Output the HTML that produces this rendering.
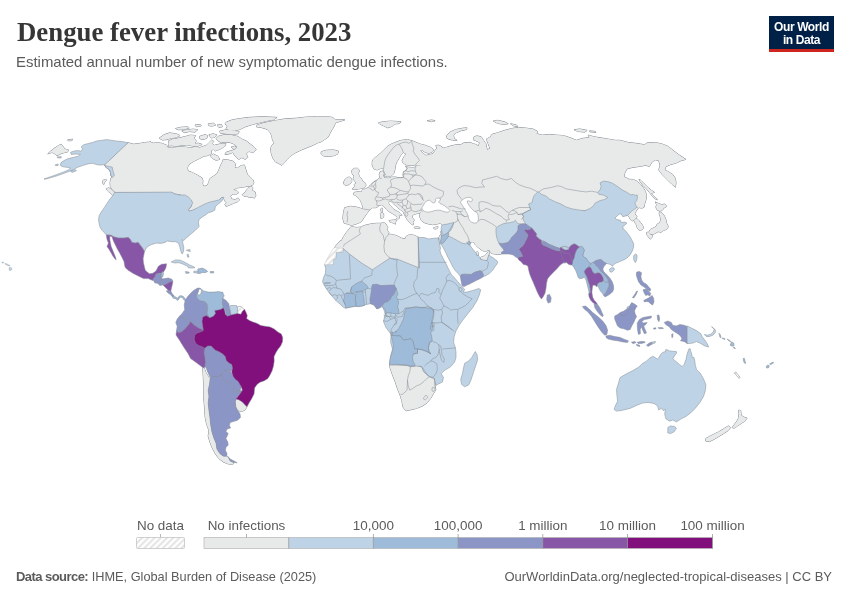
<!DOCTYPE html>
<html lang="en">
<head>
<meta charset="utf-8">
<title>Dengue fever infections, 2023</title>
<style>
html,body{margin:0;padding:0;background:#fff;}
body{width:850px;height:600px;position:relative;overflow:hidden;font-family:"Liberation Sans",sans-serif;}
#title{position:absolute;left:17px;top:15.5px;margin:0;font-family:"Liberation Serif",serif;font-weight:700;font-size:26.8px;line-height:32px;color:#363636;white-space:nowrap;letter-spacing:0px;}
#subtitle{position:absolute;left:16px;top:52px;margin:0;font-size:14.95px;line-height:20px;color:#5b5b5b;white-space:nowrap;}
#logo{position:absolute;left:769px;top:16px;width:65px;height:33px;background:#002147;border-bottom:3px solid #ce261e;color:#fff;font-weight:700;font-size:12px;line-height:12.5px;text-align:center;letter-spacing:-0.4px;}
#logo span{display:block;}
#logo span:first-child{margin-top:5px;}
#foot-l{position:absolute;left:16px;top:569px;font-size:12.75px;line-height:16px;color:#5b5b5b;white-space:nowrap;}
#foot-l b{font-weight:700;font-size:13px;letter-spacing:-0.55px;}
#foot-r{position:absolute;right:18px;top:569px;font-size:13px;line-height:16px;color:#5b5b5b;white-space:nowrap;}
#map{position:absolute;left:0;top:0;width:850px;height:600px;}
.lg{font-family:"Liberation Sans",sans-serif;font-size:13.45px;fill:#5b5b5b;}
</style>
</head>
<body>
<h1 id="title">Dengue fever infections, 2023</h1>
<p id="subtitle">Estimated annual number of new symptomatic dengue infections.</p>
<div id="logo"><span>Our World</span><span>in Data</span></div>
<svg id="map" width="850" height="600" viewBox="0 0 850 600">
<g stroke="#838a92" stroke-linejoin="round">
<path fill="#e8eaea" stroke-width="1" d="M50.6 151.2L54.2 148.4L58.4 145.6L61.2 144.2L63.4 147L64.8 149.1L68.3 149.8L67.6 152L64.1 152.7L59.8 154.1L57 155.8L54.2 153.4L52 152.4L47.8 153.8Z M67.6 139.9L72.6 139.2L71.9 140.6L68.3 140.8Z M106.3 188.8L108.7 187.8L111.5 189.5L114.4 192.3L114.8 194.9L112.5 195.4L110.1 193L107.7 190.9Z M103 180.3L105.9 179.3L106.6 180.3L104.4 182.4L103.7 184.5L102.7 183.1Z M128.1 142.7L133.5 144.2L139.2 143.5L144.8 142.5L150.5 142L150 141.8L153.5 143.2L157.9 142.6L162.4 143.5L166.8 145.3L167.6 147.4L174.7 147.4L180 146.5L185.3 147.1L190.6 147.8L196.8 146.5L198.5 148.1L202.9 146.5L206.5 145.3L209.1 142.6L211.8 140L213.9 141.4L211.8 143.5L214.4 145.3L217.9 144.4L222.3 143.5L225.9 143.5L225 146.2L222.3 147.9L218.8 149.7L215.3 150.9L213.5 149.2L210.9 150.9L211.8 153.2L208.2 155.5L203.8 156.2L199.4 158.5L194.1 161.2L189.7 163.8L187.4 167.3L187.9 170.9L192.4 172.6L197.6 175.3L202.1 177.9L202.9 180.6L202.6 184.1L203.8 186.2L206.5 185.9L208.8 182.7L209.6 178.8L213.5 176.2L217.1 173.5L218.5 170.9L220.2 166.5L222.3 162.1L223.2 159.4L227.6 159.8L232.9 161.2L235.6 163.8L234.7 167.3L237.3 168.2L240.9 165.6L244.4 165L245.9 169.9L247.3 174.2L250.1 177L252.9 179.8L253.9 182.7L252.9 184.8L250.8 185.8L248 186.3L242.3 187.2L236.7 188L233.1 190L236.7 190.5L238.8 192.6L236.7 194L233.1 194L230.3 196.1L231.7 199L235.2 199.7L238.1 198L239.8 199.7L237.4 201.8L233.8 203.2L229.6 205L226 206.5L225 204.6L226.7 202.5L224.6 201.1L223.9 197.5L223.5 197.2L221.6 197.6L218.8 200L215.3 202.4L209.4 204.2L202.4 206.6L195.3 208.9L190.1 211.1L188.7 210.1L191.8 205.9L190.6 202.4L187.8 198.8L184.7 196.5L181.2 194.8L175.3 193.4L171.8 192.2L114.8 192.5L115.1 192L112.9 190.2L110.4 186.7L110.1 182.4L110.8 178.2L112.2 177.5L110.8 175.3L110.5 172.5L109.4 169.7L106.6 168L104.4 165.1Z M217.9 136.5L224.1 134.7L231.2 135.1L238.2 136.5L241.8 139.1L246.2 140.9L250.6 144.4L254.1 147.1L256.2 149.7L253.2 152.4L248.8 151.5L246.2 153.8L247.9 157.3L245.3 159.4L241.8 157.6L239.1 159.4L236.5 157.6L234.3 155L232.9 152.4L228.5 154.1L225 154.5L225.9 152.4L230.3 150.9L234.7 149.7L237.3 147.1L234.7 144.4L230.3 142.6L225.9 142.1L221.5 142.6L217.9 140.9L216.2 138.6Z M231.2 147.1L234.7 146.2L236.5 147.4L233.8 149.2Z M225.9 122.4L231.2 120.2L238.2 118.8L248.8 117.4L262.9 116.7L277.1 117.4L273.5 119.7L266.5 120.9L259.4 122.7L252.3 124.5L245.3 126.8L240 129.4L234.7 130.8L229.4 130.3L225.9 128.5L227.6 125.9L225 124.1Z M219.7 131.2L225.9 129.8L232.9 130.8L239.1 131.5L238.2 133.8L232.1 134.4L225.9 133.8L220.6 133.3Z M208.2 123.8L213.5 123.2L215.6 125L211.8 126.2L208.6 125.5Z M217.1 125L221.5 124.5L222.3 126.8L218.8 127.3Z M175.6 128.5L180.9 127.3L187.9 126.8L189.2 128L183.5 129.4L178.2 129.8Z M195 125L200.3 124.5L201.2 125.9L196.2 126.8Z M181.8 130.8L187.9 129.8L193.2 129.1L197.6 129.8L195 132.1L189.7 131.5L184.4 132.6Z M159.2 138.2L164.1 134.7L169.4 132.9L176.5 133.8L180 135.6L176.5 137.4L171.2 138.2L166.8 139.6L162.4 140Z M168.5 140.9L172.9 139.1L178.2 138.2L185.3 136.5L190.6 135.1L195.5 135.6L194.1 138.2L196.2 140.9L195 143.5L198.5 143.2L202.1 144.4L198.5 146L192.4 146L187.1 144.9L181.8 145.3L176.5 146.2L171.2 145.6L168.4 146.2L169.1 143.9Z M199.4 136.5L204.7 134.7L207.9 135.6L206.8 138.2L202.9 139.6L199.8 138.6Z M209.1 134.7L213.5 133.8L217.1 135.1L214.4 137.4L210.9 137.9Z M210 156.2L213.5 154.1L217.9 156.2L219.7 159.4L216.2 160.3L212.6 158.5Z M242.3 194.7L245.2 191.9L248 188.3L250.8 186.2L252.9 187.6L252.2 190.5L255.1 191.9L255.8 195.4L254.4 198.2L252.2 197.1L249.4 197.5L246.6 196.1L243.7 196.1Z M256.5 125.3L263.5 122.9L275.3 120.6L284.7 118.9L296.5 118.2L305.9 117.1L317.6 116.6L327.1 116.6L332.9 117.5L335.3 119.9L344.7 119.9L338.8 121.8L335.3 122.9L334.1 126.5L331.8 130L329.9 133.5L328.2 137.1L324.7 139.4L321.2 141.8L317.6 142.9L312.9 145.3L307.1 147.6L301.2 150L295.3 152.8L290.6 155.9L287.1 159.4L284.2 162.9L281.9 165.3L278.8 163.6L275.3 161.8L272.9 158.2L271.3 153.5L270.6 148.8L271.8 145.3L274.1 142.9L272.5 140.1L271.8 135.9L270.1 132.4L267.1 129.3L261.6 127.6L256.5 126.9Z M321.2 151.9L324.7 150.5L329.4 150L334.1 150L338.4 151.2L337.6 154.2L332.9 155.9L328.2 156.6L323.5 155.9L321.2 154.2Z M235.8 399L238.8 399.7L242.4 402.1L245.2 405.1L246.6 407.5L244.7 410.3L241.2 411.5L237.6 410.3L235.8 406.8L235.3 402.1Z M202.8 367.5L204.2 367.9L205.9 372.6L208.2 376.2L210.6 379.7L209.4 384.4L208.2 390.3L208.9 396.2L208.2 403.2L208.9 410.3L209.9 417.4L210.6 424.4L211.8 431.5L213.6 437.4L216 443.2L216.9 449.1L220 453.8L223.5 456.2L226.6 456.2L228.2 456.9L230.1 460.9L233.4 462.5L232.9 464.4L228.2 463.9L223.5 462.1L218.8 458.5L215.3 453.8L212.2 447.9L209.9 442.1L208.2 436.2L208.9 430.3L206.6 424.4L205.2 417.4L204.7 410.3L204.2 403.2L203.5 396.2L203.5 389.1L203.5 382.1L203.1 373.8Z M363.3 209.4L361.9 203.7L359.8 199.5L356.2 195.9L353.4 194.5L354.1 192.4L358.4 191.7L361.2 192.1L362.6 189.6L365.5 188.9L368.3 187.5L370.4 185L372.5 183.2L375.4 181.1L377.5 179.7L380 177.5L379.2 174.7L380 171.9L382.5 170.9L383.9 173.3L383.2 176.1L384.9 178L388.8 178.2L391.7 177.1L395.9 177.1L400.2 178.2L403.7 177.1L404.4 174L403.3 171.9L405.8 170.5L407.9 168.3L405.8 166.9L405.4 166.2L407.9 167.2L412.2 167.5L415.5 167.2L416.6 165.6L428.5 165.2L428.5 199.2L426.4 199.2L424.2 201.6L422.5 204.4L421.7 207.7L421.7 211.2L420 212.7L417.2 213.5L414 214.4L412.2 215.8L412.6 218L414.3 220L412.9 222.3L413.6 224.7L412.2 224.7L410.1 222.9L407.9 220.5L405.8 217.6L404.7 214.8L403.8 213.8L403.5 212.1L402.1 210.9L400 209.4L397.6 207.4L395.3 205.3L392.9 203.2L390.9 201.2L389.7 200.9L388.8 201.8L388.5 203.2L390 205.3L392.1 207.6L394.1 209.7L396.5 210.9L398.8 212.1L400.6 213.8L402.1 215.3L401.2 215.6L399.7 214.7L398.8 215.3L399.4 216.8L399.4 218.2L398.5 218.5L397.6 219.7L396.5 220.4L395.9 220L397.4 217.6L395.3 215.3L392.4 213.5L389.4 211.8L386.5 209.4L384.4 206.8L381.8 204.7L378.2 205.6L377.5 207L375.4 207.7L372.5 207.7L369.7 209.8L366.9 213.4L364 217.6L361.2 221.9L356.2 224L351.3 225.4L347.7 224L344.2 223.3L342.8 218.3L343.5 212.7L344.6 207.7L350.6 206.3L356.2 207L363.3 209.1Z M372.4 161.1L373.5 159L377 156.1L380.6 153.3L384.1 149.7L387.7 146.2L391.2 144.1L394.7 142.7L400.4 140.5L407.5 139.5L413.2 141.2L420.2 144.1L425.9 145.5L430.9 147.6L433.7 149.7L432.3 151.9L428.7 153.3L425.2 152.3L421.7 150L420.2 150.5L423.1 153.3L425.9 155.4L429.4 154.7L433 153.7L435.1 150.5L437.2 147.6L441.5 147.6L441.5 166.7L415.3 165L411.7 165.3L406.8 165L403.2 163.2L402.1 160.4L404 156.8L406.1 154L403.2 152.3L401.1 154.7L399 158.2L396.9 161.8L395.5 165.3L395 168.9L394 173.1L391.9 175.5L389.1 176.4L386.2 175.5L384.8 173.1L383.4 169.6L382 167.9L379.9 168.9L377 169.9L373.8 168.9L372.1 164.6Z M352 188.9L354.8 189.6L358.4 188.9L363.3 188.2L365.9 186L365.5 183.2L362.6 181.1L361.2 178.2L359.1 176.1L358.4 173.3L359.4 170.5L357.7 168.3L354.1 168.3L351.7 170.5L352.3 174L354.1 176.1L353.1 179L354.8 181.1L356.2 183.2L354.1 184.6L354.8 186.5Z M343.5 183.9L345.6 185.3L349.2 184.6L351.7 181.8L351.7 179L349.9 177.1L347 177.5L344.9 179.7L343.8 181.8Z M389.1 220.6L391.2 220.3L393.5 220L395.9 220L396.2 220.9L395.3 222.6L395.6 224.1L393.5 223.2L391.5 222.4L389.7 221.8Z M380.3 213.2L381.8 212.6L383.2 213.2L383.8 215L383.5 217.4L381.8 218.2L380.9 218.5L380.6 216.2Z M380.9 208.8L382.1 207.9L382.6 209.1L382.4 211.8L381.5 212.1L380.9 210.6Z M414.3 227.1L417.2 226.8L420 227.5L419.7 228.5L416.4 228.5L414.3 228Z M433.4 228L435.6 227.1L438.1 226.8L437.3 228.5L434.9 229.1Z M384.6 174.7L386.8 175.1L386.3 176.8L384.6 176.5Z M378.5 122.8L383.4 121.7L390.5 121.1L401.1 121.7L399 123.5L394.7 124L391.9 126.4L387.7 127.8L383.4 125.7L379.9 124.2Z M427.3 120.7L431.6 120L435.1 120.7L431.6 121.7Z M437.2 148.3L435.8 145.5L438.7 145.2L442.2 146.9L442.9 148.3L445.7 147.6L450 146.2L455.7 144.8L461.3 144.4L464.2 142.7L469.8 142.4L473.4 143.8L476.9 144.8L478.3 146.2L479.7 142.7L476.9 141.2L473.4 139.8L474.1 136.7L476.9 135.9L481.1 136.7L483.5 140.3L485.9 143.8L487.1 149.7L490.1 148.5L488.2 143.8L486.4 139.1L490.6 136.8L491.8 134.4L497.6 132.8L504.7 130.4L511.8 128.5L518.8 127.4L525.9 128.1L532.9 129L537.6 131.4L536.5 133.7L542.4 135.1L549.4 134.4L556.5 135.1L563.5 135.6L570.6 137.9L576.5 140.3L582.4 138.4L589.4 137.5L588.2 135.1L594.1 136.8L601.2 137.9L608.2 139.1L615.3 140.3L620 140.3L628.2 142.5L636.5 143.4L644.7 144.8L647.1 142.9L655.3 142.5L662.4 144.1L668.2 146.5L674.1 151.2L678.8 154.7L685.9 159.4L681.2 160.6L676.5 162.9L670.6 164.6L665.9 166.5L664.7 170L668.2 171.6L672.9 174.7L675.3 178.2L676 182.9L675.3 187.2L671.8 184.1L667.1 179.4L662.4 174.7L658.8 170L660 165.3L658.8 160.6L655.3 159.9L651.8 162.2L649.4 166.5L645.9 165.3L638.8 166.5L631.8 167.6L627.1 168.8L624.7 173.1L624.2 177.1L628.2 178.7L628.3 179.2L633.3 179.6L637.1 181.3L640.4 184.2L643.2 187.7L645.3 191.2L646.5 195.5L646 199.7L644.6 204L644.2 207.1L641.8 208.2L639 207.5L638 208.5L636.1 211.1L634.7 213.9L637.1 216L636.1 218.2L638 219.6L640.4 222.4L642.5 225.2L643.6 228.1L641.8 229.8L639 230.2L637.1 227.4L636.1 224.5L634.7 222.4L634 220.3L631.9 221L630 218.9L629 216.7L627.6 215.3L605.9 208.8L547.1 213.5L524.1 234.4L507.6 250.9L500.8 254.1L498 254.5L494.6 254L491.8 253.5L490.4 252.6L489.9 250.7L488.9 249.9L487 250.8L484.7 251.4L482.3 250.5L479.9 248.8L477.5 246.9L475.6 245L474.2 243.1L472.8 241.9L470.6 242.1L470.2 243.5L468.5 244L465.7 245L457.6 242.1L449.5 237.8L446.5 229.7L440.5 223.3L437 224L432.7 224.7L428.5 224L424.2 222.6L421.4 220.5L419.7 216.9L420 213.4L421.7 211.2L420 196.7L420 164.1L438.7 164.1L438.7 149Z M446.4 137.7L447.2 134.9L450 132L455.7 129.6L462.7 128.2L467 127.8L466.3 129.6L461.3 130.6L456.4 132.7L453.5 135.3L454.2 138.4L457.1 140.5L452.8 140.1L448.6 139.1Z M493.4 121L497.6 120.3L504.7 121.9L508.2 123.8L503.5 124.3L497.6 123.4Z M510.6 123.8L516.5 125L517.6 126.6L512.9 125.7Z M574.1 129.7L580 129L587.1 130.4L584.7 132.1L577.6 131.4Z M589.4 130.9L595.3 131.4L596 132.3L589.9 131.8Z M639 179.2L641.1 180.6L644.6 184.2L648.2 187.7L651.7 190.5L654.5 192.4L653.1 192.7L651 193.4L653.1 195.5L655.9 198.3L657.4 199.7L655.2 199L652.4 196.2L649.6 192.7L646.7 189.1L643.2 185.6L640.4 182Z M655.2 201.9L658.1 203.3L661.6 204.7L664.9 204L666.6 206.5L663.7 208.2L662.3 210.4L659.5 211.1L656.7 209.7L655.9 206.8L656.7 204.7Z M659.5 211.8L662.3 213.2L664.4 216L665.9 219.6L666.6 223.1L668.3 226.7L666.6 229.5L663.7 230.2L660.9 232.3L658.1 231.6L655.9 233L653.1 234.4L650.3 233.7L648.9 232.3L650.3 229.5L653.1 228.1L655.9 226.7L657.4 223.8L659.5 223.1L660.9 220.3L660.2 216.7L659.2 213.9Z M646.7 232.3L648.9 232.3L650.3 234.4L652.4 235.2L651.7 238L650.3 239.1L648.2 236.6L646.5 234.4Z M476.3 253.5L476.1 252.4L477.2 251.6L478.3 252.6L478.5 255.6L476.6 255.2Z M480.4 257.8L481.8 256.8L484.7 255.9L486.6 254L488 252.1L488.9 250.5L489.6 252.1L488.9 254.5L488 257.3L487 260.6L484.7 260.3L482.3 259.7L480.4 259.2Z M439 237.3L440.4 234.7L441.4 234.9L441.1 237.3L440.7 239.7L440.3 242.5L439.8 244.4L439 240.6Z M738.8 410.1L740.7 410.6L741.2 415.3L744 417.2L747.1 418.1L744.7 421.2L741.2 423.5L737.6 425.9L734.1 428.2L732.2 427.5L734.6 424.2L736.9 421.2L738.8 417.6L738.4 413.4Z M728.9 425.9L730.6 427.5L728.2 430.6L723.5 433.6L718.8 436.5L714.1 439.3L709.4 441.6L705.9 441.2L705.4 438.8L709.4 436.5L714.1 434.1L718.8 431.8L723.5 428.9L727.1 426.6Z M349.2 229L350.6 227.1L352.7 226.8L356.2 227.5L360.5 227.1L364.7 225.4L370.4 224L376.1 223.3L381 223.3L383.9 222.6L386 224L387.7 227.5L387.4 230.4L388.8 232.5L388.1 235L389.5 234.2L393.1 234.6L397.3 236L401.6 238.2L405.1 238.9L406.5 236L410.1 234.6L414.3 235.3L417.9 237L418.7 240L418.7 268L397.2 259.5L389.4 258.8L372.4 270.2L361.1 263.1L349.7 254.6L343.4 248.9L334.2 248.2L337 244.2L341.2 240L341.4 241L343.5 236.7L346.3 232.5Z M389.4 365.1L397.6 365.1L407.1 365.6L410.6 366.8L416.5 366.1L421.6 366.8L423.5 371.5L427.1 375L430.6 377.4L434.1 378.5L435.3 382.1L434.8 385.6L435.8 389.6L433.4 393.8L430.6 398.5L427.1 402.8L422.4 406.1L416.5 408.4L410.6 409.8L405.9 410.8L402.8 406.8L401.9 400.9L400 395L397.6 389.1L395.3 382.1L392.5 375L390.1 367.9Z"/>
<path fill="#e8eaea" stroke="none" d="M50.6 151.2L54.2 148.4L58.4 145.6L61.2 144.2L63.4 147L64.8 149.1L68.3 149.8L67.6 152L64.1 152.7L59.8 154.1L57 155.8L54.2 153.4L52 152.4L47.8 153.8Z M67.6 139.9L72.6 139.2L71.9 140.6L68.3 140.8Z M106.3 188.8L108.7 187.8L111.5 189.5L114.4 192.3L114.8 194.9L112.5 195.4L110.1 193L107.7 190.9Z M103 180.3L105.9 179.3L106.6 180.3L104.4 182.4L103.7 184.5L102.7 183.1Z M128.1 142.7L133.5 144.2L139.2 143.5L144.8 142.5L150.5 142L150 141.8L153.5 143.2L157.9 142.6L162.4 143.5L166.8 145.3L167.6 147.4L174.7 147.4L180 146.5L185.3 147.1L190.6 147.8L196.8 146.5L198.5 148.1L202.9 146.5L206.5 145.3L209.1 142.6L211.8 140L213.9 141.4L211.8 143.5L214.4 145.3L217.9 144.4L222.3 143.5L225.9 143.5L225 146.2L222.3 147.9L218.8 149.7L215.3 150.9L213.5 149.2L210.9 150.9L211.8 153.2L208.2 155.5L203.8 156.2L199.4 158.5L194.1 161.2L189.7 163.8L187.4 167.3L187.9 170.9L192.4 172.6L197.6 175.3L202.1 177.9L202.9 180.6L202.6 184.1L203.8 186.2L206.5 185.9L208.8 182.7L209.6 178.8L213.5 176.2L217.1 173.5L218.5 170.9L220.2 166.5L222.3 162.1L223.2 159.4L227.6 159.8L232.9 161.2L235.6 163.8L234.7 167.3L237.3 168.2L240.9 165.6L244.4 165L245.9 169.9L247.3 174.2L250.1 177L252.9 179.8L253.9 182.7L252.9 184.8L250.8 185.8L248 186.3L242.3 187.2L236.7 188L233.1 190L236.7 190.5L238.8 192.6L236.7 194L233.1 194L230.3 196.1L231.7 199L235.2 199.7L238.1 198L239.8 199.7L237.4 201.8L233.8 203.2L229.6 205L226 206.5L225 204.6L226.7 202.5L224.6 201.1L223.9 197.5L223.5 197.2L221.6 197.6L218.8 200L215.3 202.4L209.4 204.2L202.4 206.6L195.3 208.9L190.1 211.1L188.7 210.1L191.8 205.9L190.6 202.4L187.8 198.8L184.7 196.5L181.2 194.8L175.3 193.4L171.8 192.2L114.8 192.5L115.1 192L112.9 190.2L110.4 186.7L110.1 182.4L110.8 178.2L112.2 177.5L110.8 175.3L110.5 172.5L109.4 169.7L106.6 168L104.4 165.1Z M217.9 136.5L224.1 134.7L231.2 135.1L238.2 136.5L241.8 139.1L246.2 140.9L250.6 144.4L254.1 147.1L256.2 149.7L253.2 152.4L248.8 151.5L246.2 153.8L247.9 157.3L245.3 159.4L241.8 157.6L239.1 159.4L236.5 157.6L234.3 155L232.9 152.4L228.5 154.1L225 154.5L225.9 152.4L230.3 150.9L234.7 149.7L237.3 147.1L234.7 144.4L230.3 142.6L225.9 142.1L221.5 142.6L217.9 140.9L216.2 138.6Z M231.2 147.1L234.7 146.2L236.5 147.4L233.8 149.2Z M225.9 122.4L231.2 120.2L238.2 118.8L248.8 117.4L262.9 116.7L277.1 117.4L273.5 119.7L266.5 120.9L259.4 122.7L252.3 124.5L245.3 126.8L240 129.4L234.7 130.8L229.4 130.3L225.9 128.5L227.6 125.9L225 124.1Z M219.7 131.2L225.9 129.8L232.9 130.8L239.1 131.5L238.2 133.8L232.1 134.4L225.9 133.8L220.6 133.3Z M208.2 123.8L213.5 123.2L215.6 125L211.8 126.2L208.6 125.5Z M217.1 125L221.5 124.5L222.3 126.8L218.8 127.3Z M175.6 128.5L180.9 127.3L187.9 126.8L189.2 128L183.5 129.4L178.2 129.8Z M195 125L200.3 124.5L201.2 125.9L196.2 126.8Z M181.8 130.8L187.9 129.8L193.2 129.1L197.6 129.8L195 132.1L189.7 131.5L184.4 132.6Z M159.2 138.2L164.1 134.7L169.4 132.9L176.5 133.8L180 135.6L176.5 137.4L171.2 138.2L166.8 139.6L162.4 140Z M168.5 140.9L172.9 139.1L178.2 138.2L185.3 136.5L190.6 135.1L195.5 135.6L194.1 138.2L196.2 140.9L195 143.5L198.5 143.2L202.1 144.4L198.5 146L192.4 146L187.1 144.9L181.8 145.3L176.5 146.2L171.2 145.6L168.4 146.2L169.1 143.9Z M199.4 136.5L204.7 134.7L207.9 135.6L206.8 138.2L202.9 139.6L199.8 138.6Z M209.1 134.7L213.5 133.8L217.1 135.1L214.4 137.4L210.9 137.9Z M210 156.2L213.5 154.1L217.9 156.2L219.7 159.4L216.2 160.3L212.6 158.5Z M242.3 194.7L245.2 191.9L248 188.3L250.8 186.2L252.9 187.6L252.2 190.5L255.1 191.9L255.8 195.4L254.4 198.2L252.2 197.1L249.4 197.5L246.6 196.1L243.7 196.1Z M256.5 125.3L263.5 122.9L275.3 120.6L284.7 118.9L296.5 118.2L305.9 117.1L317.6 116.6L327.1 116.6L332.9 117.5L335.3 119.9L344.7 119.9L338.8 121.8L335.3 122.9L334.1 126.5L331.8 130L329.9 133.5L328.2 137.1L324.7 139.4L321.2 141.8L317.6 142.9L312.9 145.3L307.1 147.6L301.2 150L295.3 152.8L290.6 155.9L287.1 159.4L284.2 162.9L281.9 165.3L278.8 163.6L275.3 161.8L272.9 158.2L271.3 153.5L270.6 148.8L271.8 145.3L274.1 142.9L272.5 140.1L271.8 135.9L270.1 132.4L267.1 129.3L261.6 127.6L256.5 126.9Z M321.2 151.9L324.7 150.5L329.4 150L334.1 150L338.4 151.2L337.6 154.2L332.9 155.9L328.2 156.6L323.5 155.9L321.2 154.2Z M235.8 399L238.8 399.7L242.4 402.1L245.2 405.1L246.6 407.5L244.7 410.3L241.2 411.5L237.6 410.3L235.8 406.8L235.3 402.1Z M202.8 367.5L204.2 367.9L205.9 372.6L208.2 376.2L210.6 379.7L209.4 384.4L208.2 390.3L208.9 396.2L208.2 403.2L208.9 410.3L209.9 417.4L210.6 424.4L211.8 431.5L213.6 437.4L216 443.2L216.9 449.1L220 453.8L223.5 456.2L226.6 456.2L228.2 456.9L230.1 460.9L233.4 462.5L232.9 464.4L228.2 463.9L223.5 462.1L218.8 458.5L215.3 453.8L212.2 447.9L209.9 442.1L208.2 436.2L208.9 430.3L206.6 424.4L205.2 417.4L204.7 410.3L204.2 403.2L203.5 396.2L203.5 389.1L203.5 382.1L203.1 373.8Z M363.3 209.4L361.9 203.7L359.8 199.5L356.2 195.9L353.4 194.5L354.1 192.4L358.4 191.7L361.2 192.1L362.6 189.6L365.5 188.9L368.3 187.5L370.4 185L372.5 183.2L375.4 181.1L377.5 179.7L380 177.5L379.2 174.7L380 171.9L382.5 170.9L383.9 173.3L383.2 176.1L384.9 178L388.8 178.2L391.7 177.1L395.9 177.1L400.2 178.2L403.7 177.1L404.4 174L403.3 171.9L405.8 170.5L407.9 168.3L405.8 166.9L405.4 166.2L407.9 167.2L412.2 167.5L415.5 167.2L416.6 165.6L428.5 165.2L428.5 199.2L426.4 199.2L424.2 201.6L422.5 204.4L421.7 207.7L421.7 211.2L420 212.7L417.2 213.5L414 214.4L412.2 215.8L412.6 218L414.3 220L412.9 222.3L413.6 224.7L412.2 224.7L410.1 222.9L407.9 220.5L405.8 217.6L404.7 214.8L403.8 213.8L403.5 212.1L402.1 210.9L400 209.4L397.6 207.4L395.3 205.3L392.9 203.2L390.9 201.2L389.7 200.9L388.8 201.8L388.5 203.2L390 205.3L392.1 207.6L394.1 209.7L396.5 210.9L398.8 212.1L400.6 213.8L402.1 215.3L401.2 215.6L399.7 214.7L398.8 215.3L399.4 216.8L399.4 218.2L398.5 218.5L397.6 219.7L396.5 220.4L395.9 220L397.4 217.6L395.3 215.3L392.4 213.5L389.4 211.8L386.5 209.4L384.4 206.8L381.8 204.7L378.2 205.6L377.5 207L375.4 207.7L372.5 207.7L369.7 209.8L366.9 213.4L364 217.6L361.2 221.9L356.2 224L351.3 225.4L347.7 224L344.2 223.3L342.8 218.3L343.5 212.7L344.6 207.7L350.6 206.3L356.2 207L363.3 209.1Z M372.4 161.1L373.5 159L377 156.1L380.6 153.3L384.1 149.7L387.7 146.2L391.2 144.1L394.7 142.7L400.4 140.5L407.5 139.5L413.2 141.2L420.2 144.1L425.9 145.5L430.9 147.6L433.7 149.7L432.3 151.9L428.7 153.3L425.2 152.3L421.7 150L420.2 150.5L423.1 153.3L425.9 155.4L429.4 154.7L433 153.7L435.1 150.5L437.2 147.6L441.5 147.6L441.5 166.7L415.3 165L411.7 165.3L406.8 165L403.2 163.2L402.1 160.4L404 156.8L406.1 154L403.2 152.3L401.1 154.7L399 158.2L396.9 161.8L395.5 165.3L395 168.9L394 173.1L391.9 175.5L389.1 176.4L386.2 175.5L384.8 173.1L383.4 169.6L382 167.9L379.9 168.9L377 169.9L373.8 168.9L372.1 164.6Z M352 188.9L354.8 189.6L358.4 188.9L363.3 188.2L365.9 186L365.5 183.2L362.6 181.1L361.2 178.2L359.1 176.1L358.4 173.3L359.4 170.5L357.7 168.3L354.1 168.3L351.7 170.5L352.3 174L354.1 176.1L353.1 179L354.8 181.1L356.2 183.2L354.1 184.6L354.8 186.5Z M343.5 183.9L345.6 185.3L349.2 184.6L351.7 181.8L351.7 179L349.9 177.1L347 177.5L344.9 179.7L343.8 181.8Z M389.1 220.6L391.2 220.3L393.5 220L395.9 220L396.2 220.9L395.3 222.6L395.6 224.1L393.5 223.2L391.5 222.4L389.7 221.8Z M380.3 213.2L381.8 212.6L383.2 213.2L383.8 215L383.5 217.4L381.8 218.2L380.9 218.5L380.6 216.2Z M380.9 208.8L382.1 207.9L382.6 209.1L382.4 211.8L381.5 212.1L380.9 210.6Z M414.3 227.1L417.2 226.8L420 227.5L419.7 228.5L416.4 228.5L414.3 228Z M433.4 228L435.6 227.1L438.1 226.8L437.3 228.5L434.9 229.1Z M384.6 174.7L386.8 175.1L386.3 176.8L384.6 176.5Z M378.5 122.8L383.4 121.7L390.5 121.1L401.1 121.7L399 123.5L394.7 124L391.9 126.4L387.7 127.8L383.4 125.7L379.9 124.2Z M427.3 120.7L431.6 120L435.1 120.7L431.6 121.7Z M437.2 148.3L435.8 145.5L438.7 145.2L442.2 146.9L442.9 148.3L445.7 147.6L450 146.2L455.7 144.8L461.3 144.4L464.2 142.7L469.8 142.4L473.4 143.8L476.9 144.8L478.3 146.2L479.7 142.7L476.9 141.2L473.4 139.8L474.1 136.7L476.9 135.9L481.1 136.7L483.5 140.3L485.9 143.8L487.1 149.7L490.1 148.5L488.2 143.8L486.4 139.1L490.6 136.8L491.8 134.4L497.6 132.8L504.7 130.4L511.8 128.5L518.8 127.4L525.9 128.1L532.9 129L537.6 131.4L536.5 133.7L542.4 135.1L549.4 134.4L556.5 135.1L563.5 135.6L570.6 137.9L576.5 140.3L582.4 138.4L589.4 137.5L588.2 135.1L594.1 136.8L601.2 137.9L608.2 139.1L615.3 140.3L620 140.3L628.2 142.5L636.5 143.4L644.7 144.8L647.1 142.9L655.3 142.5L662.4 144.1L668.2 146.5L674.1 151.2L678.8 154.7L685.9 159.4L681.2 160.6L676.5 162.9L670.6 164.6L665.9 166.5L664.7 170L668.2 171.6L672.9 174.7L675.3 178.2L676 182.9L675.3 187.2L671.8 184.1L667.1 179.4L662.4 174.7L658.8 170L660 165.3L658.8 160.6L655.3 159.9L651.8 162.2L649.4 166.5L645.9 165.3L638.8 166.5L631.8 167.6L627.1 168.8L624.7 173.1L624.2 177.1L628.2 178.7L628.3 179.2L633.3 179.6L637.1 181.3L640.4 184.2L643.2 187.7L645.3 191.2L646.5 195.5L646 199.7L644.6 204L644.2 207.1L641.8 208.2L639 207.5L638 208.5L636.1 211.1L634.7 213.9L637.1 216L636.1 218.2L638 219.6L640.4 222.4L642.5 225.2L643.6 228.1L641.8 229.8L639 230.2L637.1 227.4L636.1 224.5L634.7 222.4L634 220.3L631.9 221L630 218.9L629 216.7L627.6 215.3L605.9 208.8L547.1 213.5L524.1 234.4L507.6 250.9L500.8 254.1L498 254.5L494.6 254L491.8 253.5L490.4 252.6L489.9 250.7L488.9 249.9L487 250.8L484.7 251.4L482.3 250.5L479.9 248.8L477.5 246.9L475.6 245L474.2 243.1L472.8 241.9L470.6 242.1L470.2 243.5L468.5 244L465.7 245L457.6 242.1L449.5 237.8L446.5 229.7L440.5 223.3L437 224L432.7 224.7L428.5 224L424.2 222.6L421.4 220.5L419.7 216.9L420 213.4L421.7 211.2L420 196.7L420 164.1L438.7 164.1L438.7 149Z M446.4 137.7L447.2 134.9L450 132L455.7 129.6L462.7 128.2L467 127.8L466.3 129.6L461.3 130.6L456.4 132.7L453.5 135.3L454.2 138.4L457.1 140.5L452.8 140.1L448.6 139.1Z M493.4 121L497.6 120.3L504.7 121.9L508.2 123.8L503.5 124.3L497.6 123.4Z M510.6 123.8L516.5 125L517.6 126.6L512.9 125.7Z M574.1 129.7L580 129L587.1 130.4L584.7 132.1L577.6 131.4Z M589.4 130.9L595.3 131.4L596 132.3L589.9 131.8Z M639 179.2L641.1 180.6L644.6 184.2L648.2 187.7L651.7 190.5L654.5 192.4L653.1 192.7L651 193.4L653.1 195.5L655.9 198.3L657.4 199.7L655.2 199L652.4 196.2L649.6 192.7L646.7 189.1L643.2 185.6L640.4 182Z M655.2 201.9L658.1 203.3L661.6 204.7L664.9 204L666.6 206.5L663.7 208.2L662.3 210.4L659.5 211.1L656.7 209.7L655.9 206.8L656.7 204.7Z M659.5 211.8L662.3 213.2L664.4 216L665.9 219.6L666.6 223.1L668.3 226.7L666.6 229.5L663.7 230.2L660.9 232.3L658.1 231.6L655.9 233L653.1 234.4L650.3 233.7L648.9 232.3L650.3 229.5L653.1 228.1L655.9 226.7L657.4 223.8L659.5 223.1L660.9 220.3L660.2 216.7L659.2 213.9Z M646.7 232.3L648.9 232.3L650.3 234.4L652.4 235.2L651.7 238L650.3 239.1L648.2 236.6L646.5 234.4Z M476.3 253.5L476.1 252.4L477.2 251.6L478.3 252.6L478.5 255.6L476.6 255.2Z M480.4 257.8L481.8 256.8L484.7 255.9L486.6 254L488 252.1L488.9 250.5L489.6 252.1L488.9 254.5L488 257.3L487 260.6L484.7 260.3L482.3 259.7L480.4 259.2Z M439 237.3L440.4 234.7L441.4 234.9L441.1 237.3L440.7 239.7L440.3 242.5L439.8 244.4L439 240.6Z M738.8 410.1L740.7 410.6L741.2 415.3L744 417.2L747.1 418.1L744.7 421.2L741.2 423.5L737.6 425.9L734.1 428.2L732.2 427.5L734.6 424.2L736.9 421.2L738.8 417.6L738.4 413.4Z M728.9 425.9L730.6 427.5L728.2 430.6L723.5 433.6L718.8 436.5L714.1 439.3L709.4 441.6L705.9 441.2L705.4 438.8L709.4 436.5L714.1 434.1L718.8 431.8L723.5 428.9L727.1 426.6Z M349.2 229L350.6 227.1L352.7 226.8L356.2 227.5L360.5 227.1L364.7 225.4L370.4 224L376.1 223.3L381 223.3L383.9 222.6L386 224L387.7 227.5L387.4 230.4L388.8 232.5L388.1 235L389.5 234.2L393.1 234.6L397.3 236L401.6 238.2L405.1 238.9L406.5 236L410.1 234.6L414.3 235.3L417.9 237L418.7 240L418.7 268L397.2 259.5L389.4 258.8L372.4 270.2L361.1 263.1L349.7 254.6L343.4 248.9L334.2 248.2L337 244.2L341.2 240L341.4 241L343.5 236.7L346.3 232.5Z M389.4 365.1L397.6 365.1L407.1 365.6L410.6 366.8L416.5 366.1L421.6 366.8L423.5 371.5L427.1 375L430.6 377.4L434.1 378.5L435.3 382.1L434.8 385.6L435.8 389.6L433.4 393.8L430.6 398.5L427.1 402.8L422.4 406.1L416.5 408.4L410.6 409.8L405.9 410.8L402.8 406.8L401.9 400.9L400 395L397.6 389.1L395.3 382.1L392.5 375L390.1 367.9Z"/>
<path d="M128.1 142.7L122.2 141.6L116.5 141L110.8 140.2L106.6 139.6L102.3 140.2L96.7 141L92.4 142.5L88.2 143.5L83.2 144.9L81.4 146.7L82.5 149.1L81.1 151.2L77.5 150.5L73.3 151.2L70.5 152.4L71.2 154.4L76.1 154.1L80.4 154.4L78.2 156.2L74 157.2L68.3 158.6L64.1 160.5L61 162.6L60.1 165.1L62 166.5L64.8 167.1L68.3 167.5L70.5 168.2L68.3 169.9L64.1 171.8L58.4 173.9L52.7 176L47.1 177.9L44 178.9L45 179.3L51.3 177.5L57.7 175.6L63.4 173.6L69 171.4L73.3 169.7L77.1 167.5L81.1 166.1L85.3 164.7L88.9 163.7L93.1 163.3L96.7 164.7L100.2 165.1L104.4 164.7L106.6 166.1L109.4 166.5L112.2 167.1L112.9 170.4L113.7 173.2L114.4 175.6L112.2 177.5L110.8 175.3L110.5 172.5L109.4 169.7L106.6 168L104.4 165.1Z" fill="#bfd3e6" stroke-width="0.5"/>
<path d="M57 156.9L61.2 156.6L61.2 158L57.7 157.9Z" fill="#bfd3e6" stroke-width="0.5"/>
<path d="M55.3 164.7L58.1 164L58.1 165.4L55.6 165.7Z" fill="#bfd3e6" stroke-width="0.5"/>
<path d="M70.5 171.1L75.4 169.7L76.5 170.8L71.9 172.5Z" fill="#bfd3e6" stroke-width="0.5"/>
<path d="M9.2 267.5L11.5 267.8L12 269.5L10 270.7L9 270Z" fill="#bfd3e6" stroke-width="0.3"/>
<path d="M5 263.2L7 264L10 265.5L9.8 266.2L6.5 265L5 264Z" fill="#bfd3e6" stroke-width="0.3"/>
<path d="M2 262L3.6 262L3.5 263L2.1 263Z" fill="#bfd3e6" stroke-width="0.3"/>
<path d="M114.8 192.4L171.4 192.1L175 194.2L180.7 195.2L184.9 194.9L188.4 197L191.3 199.9L192.7 202.7L191.3 206.2L188.4 209.8L189.2 211.2L193.4 209.8L197.6 207.7L201.9 205.5L206.1 203.4L210 202L218.8 200L221.6 197.6L223.5 197.2L223.9 197.5L221.8 201.1L218.2 203.9L215.4 206.7L214.7 210.3L211.9 211.7L208.3 212.7L206.2 214.5L202.7 216.7L199.1 219.5L198.4 222.3L199.1 226.6L195.6 230.1L191.3 233.7L187.1 237.2L183.5 240.7L182.1 239.5L182.8 243.1L183.8 247.3L183.5 251.6L182.1 254.1L180.7 250.9L179.9 247.3L178.5 243.1L175.7 241.7L171.4 241.7L167.2 240.9L165.1 242.4L160.8 243.4L156.6 243.1L151.6 244.5L148.1 246.2L145.9 248.7L144.5 251.6L142.4 248L140.3 245.2L138.2 242.4L135.3 243.1L131.8 242.4L130.4 239.5L128.2 237.4L124 238.1L118.3 238.1L113.4 236.7L111.2 235.3L106.3 234.9L104.9 233.2L102 230.3L100.2 227.5L99.2 224L98.5 219.7L99.2 215.5L101.3 211.9L104.2 207.7L107 203.4L109.8 199.2L112.7 195.6Z" fill="#bfd3e6" stroke-width="0.5"/>
<path d="M186.3 250.2L189.9 249.4L190.3 251.6L187.7 250.9Z" fill="#bfd3e6" stroke-width="0.5"/>
<path d="M187 254.4L188.4 254.4L188.9 257.2L187.5 257Z" fill="#bfd3e6" stroke-width="0.5"/>
<path d="M106.3 234.9L111.2 235.3L113.4 236.7L118.3 238.1L124 238.1L128.2 237.4L130.4 239.5L131.8 242.4L135.3 243.1L138.2 242.4L140.3 245.2L142.4 248L144.5 251.6L143.8 255.1L143.1 258.7L143.5 262.9L144.5 267.2L145.2 269.9L146.6 271.6L149.4 273.7L152.9 273.2L156 270.9L158.4 266.2L161.6 264.3L166.6 263.8L165.9 267.8L164 271.4L161.6 273.2L158.8 273.2L156.5 274.9L155.3 277.2L152.7 280.5L148.2 278.6L143.5 278.6L138.8 276.3L132.9 273.2L128.2 270.2L125.4 267.8L124.7 265.7L124 261.5L121.9 257.2L119.7 253L117.6 249.4L115.5 245.2L113.4 240.9L112 236.7L109.8 236L109.8 239.5L110.5 243.1L111.2 246.6L112.7 250.2L114.1 253.7L115.5 257.2L116.2 259.8L114.8 258.7L112.7 255.8L111.2 253L109.1 249.4L107 246.6L108.4 243.1L107 239.5Z" fill="#8856a7" stroke-width="0.5"/>
<path d="M152.7 279L154.9 276.9L155.9 273.8L159.1 273.4L161.2 273.4L161.2 277.6L162.7 279.7L159.8 281.9L157.7 283.3L154.9 282.9Z" fill="#8c96c6" stroke-width="0.5"/>
<path d="M161.2 273.4L162.7 271.2L163.5 273.4L162.8 276.9L161.2 277.6Z" fill="#9ebcda" stroke-width="0.5"/>
<path d="M161.2 279L163.4 278.8L168.3 278L171.9 279.2L172.9 281.2L169.7 281.9L167.6 283.3L164.8 284.7L163.4 285.4L161.2 283.3L159.8 281.9L162.7 279.7Z" fill="#8c96c6" stroke-width="0.5"/>
<path d="M157.7 283.3L159.8 281.9L161.2 283.3L162.7 285.1L159.8 285.4Z" fill="#8c96c6" stroke-width="0.5"/>
<path d="M163.4 285.4L164.8 284.7L167.6 283.3L169.7 281.9L172.9 281.2L172.3 284.7L171.4 288.2L170.9 291.1L168.3 290.4L166.2 288.2L164.4 286.5Z" fill="#8856a7" stroke-width="0.5"/>
<path d="M166.2 291.1L168.3 290.4L170.9 291.1L171.9 293.2L174 296L172.3 296.7L170.5 294.6L168.3 293.2Z" fill="#8c96c6" stroke-width="0.5"/>
<path d="M174 296L172.3 296.7L173.3 298.2L176.1 298.9L177.5 300.6L179 298.9L178.2 297L180.4 295.6L183.2 296.3L185 298.4L185.6 300.6L183.9 299.9L182.5 297.7L180.4 297L179.4 298.2L177.1 297.9Z" fill="#9ebcda" stroke-width="0.5"/>
<path d="M171.2 262L175.4 259.9L180.4 260.2L185.3 262.5L189.6 264.9L193.8 266.7L195 267.7L191.7 268.1L188.2 267.7L187.5 266.3L183.2 264.2L179 262.7L174.7 263Z" fill="#bfd3e6" stroke-width="0.5"/>
<path d="M193.8 271.2L197.8 271L198.4 273.4L195.9 272.9L193.8 272.7Z" fill="#bfd3e6" stroke-width="0.5"/>
<path d="M197.8 269.1L202.3 268.1L205.9 269.8L207.7 271.5L205.2 272.7L202.3 272.4L200.2 273.4L198.4 273.4Z" fill="#9ebcda" stroke-width="0.5"/>
<path d="M185.3 271.5L188.9 272L189.3 273.1L186 273.4Z" fill="#9ebcda" stroke-width="0.5"/>
<path d="M210.1 271.5L213.7 271.5L213.7 272.9L210.4 273.1Z" fill="#9ebcda" stroke-width="0.5"/>
<path d="M220.7 292.5L222.9 292.2L222.9 293.6L221 293.6Z" fill="#bfd3e6" stroke-width="0.5"/>
<path d="M190.6 293.2L193.6 290.4L197.6 288.1L200 288.1L198.4 290.9L196.5 294.4L196.9 297.9L200 300.8L204.7 301.5L207.1 303.8L207.8 308.5L207.1 313.2L209.8 318.7L206.2 316.7L203.8 318.1L203.1 321.2L203.7 326.2L204.5 330.9L198.8 328.1L194.1 325L190.6 321.5L187.5 319.1L183.5 317.9L179.5 316.3L182.4 313.2L184.7 309.7L184.2 305L185.2 300.3L187.5 296.8Z" fill="#8c96c6" stroke-width="0.5"/>
<path d="M179.5 316.3L183.5 317.9L187.5 319.1L190.6 321.5L188.2 325L185.2 328.5L181.9 331.4L178.8 332.8L176.5 330.9L177.2 326.2L175.8 322.6L177.2 319.1Z" fill="#8c96c6" stroke-width="0.5"/>
<path d="M200 288.1L201.6 290.9L200.7 293.7L198.8 295.6L197.6 293.2L198.4 290.9L196.5 294.4L196.9 297.9L200 300.8L204.7 301.5L207.1 303.8L207.8 308.5L207.1 313.2L209.8 318.7L213.8 317.3L216.4 314.2L215.9 311.6L218.7 310.9L221.5 310.2L224 308.8L222.4 302.6L222.8 298.4L224.2 295.6L222.4 292.5L218.8 291.6L214.1 292.1L208.2 292.1L203.5 290.9Z" fill="#9ebcda" stroke-width="0.5"/>
<path d="M222.8 298.4L225.9 300.3L228.9 303.8L229.4 307.4L230.6 312.1L231.5 315.9L227.9 317.3L226.1 314.6L225.4 311L223.5 307.8L222.4 302.6Z" fill="#8c96c6" stroke-width="0.5"/>
<path d="M229.4 307.4L230.6 305.5L236.5 305.5L237.6 308.5L237.7 314.4L233.9 315.3L231 315.9L230.6 312.1Z" fill="#bfd3e6" stroke-width="0.5"/>
<path d="M237.7 306.4L241.2 306.4L244.2 309.6L242.8 312.5L241.2 315L237.1 314.2L237.7 308.5Z" fill="url(#hatch)" stroke-width="0.5"/>
<path d="M176.5 330.9L178.8 332.8L181.9 331.4L185.2 328.5L188.2 325L190.6 321.5L194.1 325L198.8 328.1L203.4 330L204.3 331.9L200.6 333.3L197.7 334L196 336.1L195.6 339.7L197 342.5L199.2 344.6L202.3 345.6L205.5 347.5L204.8 352.4L205.5 356.7L206.2 362.3L205.5 366.6L204.1 367.7L202.8 367.5L196.5 362.8L190.6 358.5L188.2 353.8L183.5 346.8L180 340.9L176 335Z" fill="#8856a7" stroke-width="0.5"/>
<path d="M204.8 348.2L207.7 345.3L211.2 345.3L214 347.5L216.2 349.6L219.7 351L223.2 353.1L226.1 355.9L226.8 359.5L229.6 362.3L232.5 363.7L233.2 368L232 370.8L227.5 370.1L223.2 371.5L221.8 375.1L220.4 377.9L216.9 377.2L213.3 377.9L211.9 380L209.8 376.5L207.7 372.2L206.2 368L204.8 366.6L205.5 362.3L204.8 356.7L204.1 352.4Z" fill="#8c96c6" stroke-width="0.5"/>
<path d="M222.4 372.2L225.9 370.3L230.1 370.3L231.8 373.8L235.3 377.4L239.5 382.1L241.2 386.8L240 391L235.8 391.9L232.5 390.3L232.9 385.6L230.1 383.2L225.9 381.6L222.4 378.5L221.2 376.2Z" fill="#8c96c6" stroke-width="0.5"/>
<path d="M210.1 378.8L212.9 376.4L217.6 376.9L220.7 375L222.4 378.5L225.9 381.6L230.1 383.2L232.9 385.6L232.5 390.3L235.8 391.9L240 391L242.4 390.3L240 393.8L237.2 397.4L235.8 399L235.3 402.1L235.8 406.8L237.6 410.3L240 413.8L240.5 417.4L237.6 420.2L233.4 421.6L230.1 422.5L229.4 425.6L230.6 427.9L227.1 429.1L225.9 431.5L228.2 433.4L227.1 436.2L225.9 438.5L227.8 442.1L228.2 445.1L225.9 447.5L225.4 450.3L227.1 453.8L226.6 456.2L223.5 456.2L220 453.8L216.9 449.1L216 443.2L213.6 437.4L211.8 431.5L210.6 424.4L209.9 417.4L208.9 410.3L208.2 403.2L208.9 396.2L208.2 390.3L209.4 384.4Z" fill="#8c96c6" stroke-width="0.5"/>
<path d="M228.2 456.9L230.6 459.2L234.1 461.1L237.2 462.8L233.4 462.5L230.1 460.9Z" fill="#8c96c6" stroke-width="0.5"/>
<path d="M421.9 207.8L423.3 205.5L424.8 202.6L427.1 200.7L429.5 200.2L431.4 201.7L432.8 203.1L434.7 202.6L435.7 200.7L435.2 199.3L436.6 198.3L439 197.9L440.4 198.8L440.4 200.2L438.5 201.7L440 203.6L442.3 204.5L444.7 205.9L447.1 207.8L449 209.3L449.9 210.7L448.5 212.1L445.7 212.1L442.8 211.2L440 210.2L437.1 210.2L434.3 210.7L431.4 211.6L429 212.1L426.7 212.1L424.3 211.2L422.4 209.7Z" fill="#ffffff" stroke-width="0.5"/>
<path d="M460.4 202.1L462.3 199.8L464.7 198.3L467.5 197.4L470.4 197.4L472.3 198.8L472.1 201.2L470.4 201.7L468.9 200.7L467 201.2L468 203.6L469.4 205.9L471.3 208.3L473.2 210.2L475.1 211.6L477 212.6L478 215L478.4 218.3L478 221.6L476.1 223L473.7 223L471.3 222.1L469.4 220.2L468.5 217.8L468 215.4L467 213.1L465.6 210.7L464.2 208.3L462.8 205.9L461.3 204Z" fill="#ffffff" stroke-width="0.5"/>
<path d="M538.8 191.9L541.2 194.2L545.9 195.9L549.4 198.9L555.3 201.8L561.2 204.1L565.9 206.9L571.8 208.8L578.8 210L584.7 210.7L589.4 208.8L592.9 206.5L595.3 202.9L600 200.6L604.7 199.4L607.8 197.5L603.5 195.2L598.8 194.2L597.6 192.4L600 190L601.2 186.5L600 182.9L603.5 181.1L608.7 181.8L612.9 183.4L617.6 186.5L622.4 190L627.1 192.4L630.5 194.8L633.3 194.4L635.4 195.5L637.1 194.8L637.5 197.6L636.8 200.5L635.1 202.6L635.4 204.7L637.1 207.1L634.7 209L631.9 211.1L629.7 213.2L627.6 215.3L625.5 216L622.7 216.7L621.2 213.9L619.1 214.2L617 216L614.9 218.2L617 219.6L620.5 220.3L621.2 222.4L624.8 222.1L626.9 223.1L624.8 225.2L622.7 226.7L623.4 228.8L626.2 231.6L629 235.2L630.8 237.9L632.2 240.7L633.7 244L633.5 247.4L632.2 251.2L630.3 254.5L628 257.3L625.1 259.2L621.8 260.7L618.5 262.1L615.1 263.5L613.2 265.2L612.3 266.4L611.3 264.9L609 264L606.6 263.5L604.7 262.6L602.8 261.1L600.9 259.5L598.5 259.9L595.7 260.7L593.8 262.1L592.3 262.6L591.4 263.5L589 262.6L587.6 260.7L586.2 258.3L584.3 257.3L582.8 255.9L583.3 253.1L584.3 250.7L583.3 247.8L581.4 246.4L579.5 246.9L575 244L573.9 244L571 245.4L569.1 247.8L567.7 247.3L564.4 246.4L561.5 247.3L560.1 247.8L559.6 248.3L556.3 247.3L553 245.9L549.6 244.5L546.3 242.6L543.5 241.1L542 240.7L539.7 239.2L537.3 237.3L535.9 235.4L536.8 234.5L535.9 233.1L534.4 231.2L533 229.3L531.1 227.8L529.7 226.9L527.8 225.5L525.9 224L524.5 222.1L523.5 220.2L522.7 217.9L523.6 216.7L522.2 213.9L526.4 211.7L530.7 209.6L529.9 207.5L528.5 204L532.1 202.5L532.8 199L534.2 195.5L537.7 191.9Z" fill="#bfd3e6" stroke-width="0.5"/>
<path d="M609.4 269.2L611.3 267.8L613.7 267.8L614.5 269.2L613.2 271.1L611.3 272.2L609.9 271.6Z" fill="#bfd3e6" stroke-width="0.5"/>
<path d="M633.8 255.4L635.6 254L637 255L637 257.8L636.3 260.7L635.4 262.6L634.1 260.7L633.5 258.3Z" fill="#bfd3e6" stroke-width="0.5"/>
<path d="M524 230.2L524.9 229.3L527.3 229.7L530.2 229.3L531.1 227.8L533 229.3L534.4 231.2L535.9 233.1L536.8 234.5L535.9 235.4L537.3 237.3L539.7 239.2L542 240.7L541.6 242.1L542 244L543.9 245.4L547.3 246.8L550.6 248.3L553.9 249.7L557.2 250.6L560.1 250.9L559.6 248.3L560.1 247.8L561.5 247.3L562.9 248.7L565.8 250L568.6 249.2L569.1 247.8L571 245.4L573.9 244L575 244L579.5 246.9L578.1 249.3L576.7 252.1L575.7 255L575.2 257.8L573.8 260.7L573.3 263.5L572.4 265.2L568.8 264.5L566.5 262.6L564.1 263.1L565.9 262L563 263.1L560.2 265.1L556.7 269.1L553.1 272.6L549.6 276.2L547.5 279L546.5 283.2L546 288.2L545 293.2L543.2 296.7L541.4 299.1L539.7 296.7L537.5 292.5L535.4 287.5L533.3 282.5L531.4 278.3L529.7 274L528.6 269.8L528 266.2L526.2 265.1L523.4 264.5L521.2 261.7L518.7 259.9L517.7 257.5L517.3 257.8L519.7 256.8L522.6 256.3L521.6 254L520.2 251.6L518.8 249.2L520.2 247.8L522.1 246.4L524 244L525.4 241.1L526.8 238.3L527.8 235.9L527.3 234L525.4 232.1Z" fill="#8856a7" stroke-width="0.5"/>
<path d="M518.8 225L520.7 224L523.5 223.6L525.9 224L527.8 225.5L529.7 226.9L531.1 227.8L530.2 229.3L527.3 229.7L524.9 229.3L524 230.2L525.4 232.1L527.3 234L527.8 235.9L526.8 238.3L525.4 241.1L524 244L522.1 246.4L520.2 247.8L518.8 249.2L520.2 251.6L521.6 254L522.6 256.3L519.7 256.8L517.3 257.8L515.4 256.8L513.1 254.9L509.3 254L505.5 254L501.7 254.1L501.2 252.5L504 250.6L502.6 248.3L500.2 245.4L498.8 243L502.1 243.5L505.5 243L508.3 242.1L510.2 239.7L511.6 237.3L513.5 235.4L515.4 233.5L517 231.6L518 229.3L517.8 226.4Z" fill="#8c96c6" stroke-width="0.5"/>
<path d="M496 228.3L497.9 226.4L500.7 225L503.6 223.6L506.9 223.1L510.2 222.6L513.5 221.7L515.4 220.2L516.4 221.7L517.8 223.6L520.7 224L518.8 225L517.8 226.4L518 229.3L517 231.6L515.4 233.5L513.5 235.4L511.6 237.3L510.2 239.7L508.3 242.1L505.5 243L502.1 243.5L498.8 243L497.4 239.7L496.4 235.9L496 232.1Z" fill="#bfd3e6" stroke-width="0.5"/>
<path d="M541.6 242.1L543.5 241.1L546.3 242.6L549.6 244.5L553 245.9L556.3 247.3L559.6 248.3L560.1 250.9L557.2 250.6L553.9 249.7L550.6 248.3L547.3 246.8L543.9 245.4L542 244Z" fill="#8c96c6" stroke-width="0.5"/>
<path d="M561.5 247.3L564.4 246.4L567.7 247.3L568.6 249.2L565.8 250L562.9 248.7Z" fill="#bfd3e6" stroke-width="0.5"/>
<path d="M547.2 295.1L549.5 294.4L551.2 297.9L550.5 302.2L548.1 303.1L546.7 299.8Z" fill="#8c96c6" stroke-width="0.5"/>
<path d="M441.1 243.5L442.8 243L444.5 241.5L445.7 239.6L447.1 238.2L448.3 236.3L449.5 236.4L453.3 238.3L457.6 240.7L461.9 243.1L465.7 243.8L467.1 242.6L468.3 244.5L469.9 245L471.4 247.3L473.3 249.7L475.2 252.1L476.3 253.5L476.6 255.2L478.5 255.6L479 256.8L480.4 257.8L480.4 259.2L482.3 259.7L484.7 260.3L487 260.6L488 257.3L488.9 254.5L490.8 256.4L493.2 257.8L495.6 259.7L497.8 261.6L497 264L495.6 265.9L494.2 267.8L493.2 269.7L491.3 271.6L489.4 273.5L487 274.9L484.7 276.3L483.2 274.4L481.8 271.4L479.9 270.8L477.1 271.6L474.2 272.5L471.4 274.4L468.5 274.4L464.7 274.2L461.4 274.6L460.4 276.8L460 275.8L458.1 273.5L455.7 271.1L453.3 267.8L451.4 264L449.5 260.2L447.6 256.8L446.2 253.5L444.3 249.7L442.4 246.4Z" fill="#bfd3e6" stroke-width="0.5"/>
<path d="M461.4 274.6L464.7 274.2L468.5 274.4L471.4 274.4L474.2 272.5L477.1 271.6L479.9 270.8L481.8 271.4L483.2 274.4L483.9 276.3L481.8 277.7L479 279.2L476.1 280.6L473.3 282L470 283.8L466.6 285.3L464.1 286.6L462.3 285.8L461.8 284.4L460.9 280.1L460.4 276.8Z" fill="#8c96c6" stroke-width="0.5"/>
<path d="M441.7 225.4L443.8 224.6L447.6 224L451.4 223L453.7 222.6L453.3 224.5L452.3 227.3L451.4 229.2L450.2 230.9L448.5 232.2L446.6 233.5L444.9 234.7L442.8 235.4L442 234L441.4 231.6L441.1 228.7L441.4 226.8Z" fill="#bfd3e6" stroke-width="0.5"/>
<path d="M440.4 231.6L441.7 230.6L442 233L441.1 234.4Z" fill="#bfd3e6" stroke-width="0.5"/>
<path d="M441.1 235.4L442.8 235.4L444.9 234.7L446.6 233.5L448.5 232.2L449 234L447.6 235.4L448.3 236.3L447.1 238.2L445.7 239.7L444.5 241.6L442.8 243L441.1 243.5L440.7 241.1L441.1 238.2Z" fill="#9ebcda" stroke-width="0.5"/>
<path d="M467.1 242.6L468.5 241.3L470.2 242.1L470.6 243.5L469.9 245L468.3 244.5Z" fill="#9ebcda" stroke-width="0.5"/>
<path d="M579 247.4L581.4 246.4L583.3 247.8L584.3 250.7L583.3 253.1L582.8 255.9L584.3 257.3L586.2 258.3L587.6 260.7L589 262.6L591.4 263.5L590.4 264.9L588.5 266.8L586.2 269.2L584.7 271.1L585.2 273.5L586.6 275.9L587.6 278.7L588.5 281.6L589.5 284.4L590.4 288.2L590.1 292L588.7 295.3L589 292L588.1 288.2L587.1 284.4L586.2 280.6L585.2 278.2L584.3 277.3L582.4 278.2L579.5 278.7L578.1 277.3L577.1 274L575.7 270.6L573.8 267.3L572.4 264.9L571.9 264.5L572.4 263.5L572.9 260.7L574.3 257.8L574.8 255L575.7 252.1L577.1 249.3Z" fill="#9ebcda" stroke-width="0.5"/>
<path d="M584.3 271.6L585.7 269.2L588.1 267.3L590 266.8L591.4 268.3L592.3 270.6L593.3 272.5L595.2 273.5L597.6 272.5L599.9 273L601.8 274.9L603.3 277.8L603.7 280.6L602.3 282L599.5 282.5L597.6 283.9L597.1 286.8L595.7 285.8L594.2 284.9L592.8 285.4L592.3 288.2L591.9 292L592.1 293.9L592.8 297.4L594.2 300.2L596.3 302.4L597.7 304.8L595.2 304.2L592.8 302.4L590.7 300.2L589 296.7L589 293.9L590.4 292L590.1 288.2L589.5 284.9L588.5 282L587.6 279.2L586.6 276.3L585.2 274Z" fill="#8856a7" stroke-width="0.5"/>
<path d="M590.4 264.9L591.4 263.5L592.3 262.6L593.8 262.1L594.7 264L596.6 265.9L598.5 267.3L599.5 269.2L600.9 271.1L602.8 273L604.7 274.9L606.6 277.3L608 279.7L608.5 282L606.6 282.5L604.7 281.6L603.7 280.6L603.3 277.8L601.8 274.9L599.9 273L597.6 272.5L595.2 273.5L593.3 272.5L592.3 270.6L591.4 268.3L590 266.8L588.5 266.8Z" fill="#9ebcda" stroke-width="0.5"/>
<path d="M593.8 262.1L595.7 260.7L598.5 259.9L600.9 259.5L602.8 261.1L604.7 262.6L606.6 263.5L605.2 264.9L603.7 266.8L602.8 269.2L603.7 271.6L605.6 273.5L608 275.9L610.4 278.7L612.3 282L613.5 285.4L613.7 288.7L612.8 291.5L611.3 293.1L608.2 295.3L605 296.9L603.7 295.3L605.9 292.5L607.5 289.2L608.5 286.8L609 284.4L608.5 282L608 279.7L606.6 277.3L604.7 274.9L602.8 273L600.9 271.1L599.5 269.2L598.5 267.3L596.6 265.9L594.7 264Z" fill="#8c96c6" stroke-width="0.5"/>
<path d="M597.6 283.9L599.5 282.5L602.3 282L603.7 280.6L604.7 281.6L606.6 282.5L608.5 282L609 284.4L608.5 286.8L607.5 289.2L605.9 292.5L603.7 295.3L602.3 293L600.4 291.1L598.5 287.3Z" fill="#9ebcda" stroke-width="0.5"/>
<path d="M594.1 304L596.2 304.7L598.4 305.4L600.5 309L601.9 312.5L603.3 315.3L602.6 316.7L599.8 314.6L597 311.1L594.8 307.5Z" fill="#8c96c6" stroke-width="0.5"/>
<path d="M582.4 306.5L585.6 306.1L589.2 309L592.7 312.5L596.2 315.3L599.8 318.2L603.3 321.7L606.2 325.9L607.6 330.2L606.9 334.4L604.7 335.2L601.9 332.3L598.4 327.4L594.8 321.7L591.3 316L587.7 311.8L584.2 309Z" fill="#8c96c6" stroke-width="0.5"/>
<path d="M605.9 335.9L609.7 335.2L614.7 336.6L619.6 337.3L624.6 339.4L628.5 340.8L627.4 342.5L623.2 342L617.5 340.8L612.5 340.1L608.3 339.1L606.2 337.7Z" fill="#8c96c6" stroke-width="0.5"/>
<path d="M631.4 342.2L634.5 341.5L636.2 342.5L633.1 343.7Z" fill="#8c96c6" stroke-width="0.5"/>
<path d="M637.3 342.2L640.9 341.5L644.4 341.5L645.1 342.5L641.6 343.4L638 343.4Z" fill="#8c96c6" stroke-width="0.5"/>
<path d="M636.2 344.4L639.4 345.1L639.9 346.5L637 345.8Z" fill="#8c96c6" stroke-width="0.5"/>
<path d="M646.5 345.1L649.4 342.9L652.2 342L651.5 344.4L647.9 346.5Z" fill="#8c96c6" stroke-width="0.5"/>
<path d="M652.2 342L655.7 341.5L655 342.9L651.5 344.4Z" fill="#bfd3e6" stroke-width="0.5"/>
<path d="M614.7 316L617.5 314.6L620.3 312.5L623.9 311.1L626.7 309L629.5 306.1L631.7 302.6L634.5 304L637.3 306.1L635.6 308.2L634.5 311.1L635.2 313.9L636.6 316.7L635.2 318.9L633.8 322.4L631.7 325.9L630.2 329.5L627.4 330.2L623.9 328.8L620.3 328.1L617.5 325.9L616.1 322.4L614.7 318.9Z" fill="#8c96c6" stroke-width="0.5"/>
<path d="M627.1 307.1L628.5 306.5L629.1 308.2L627.7 308.8Z" fill="#bfd3e6" stroke-width="0.5"/>
<path d="M637.3 323.1L639.4 319.6L643 317.5L647.2 316.7L651.5 316L651.2 317.9L647.9 318.9L644.4 319.6L641.6 321.7L643.7 323.1L647.2 322.4L645.8 324.5L643.7 325.9L645.1 329.5L646.5 333L644.4 333.7L642.7 330.2L641.3 326.7L640.2 329.5L640.4 333.7L638.5 334.4L637.6 330.2L637.3 326.7Z" fill="#8c96c6" stroke-width="0.5"/>
<path d="M657.2 315.3L658.9 315L659.7 318.9L658.9 321.7L657.6 319.6Z" fill="#8c96c6" stroke-width="0.5"/>
<path d="M653.6 328.1L655.7 327.8L656 328.8L653.8 329.2Z" fill="#8c96c6" stroke-width="0.5"/>
<path d="M657.9 327.8L662.1 327.4L663.5 328.4L660 328.8Z" fill="#8c96c6" stroke-width="0.5"/>
<path d="M671.7 334.4L673 333.7L672.7 337.3L671.9 337.7Z" fill="#8c96c6" stroke-width="0.5"/>
<path d="M664.2 322.4L667.8 321L671.3 322.4L672.7 325.2L676.3 325.9L679.8 324.5L684.1 325.2L687.6 326.7L687.6 343.7L684.1 341.5L680.5 340.8L681.9 338.7L680.5 335.9L677.7 333.7L674.2 331.6L671.3 329.5L669.2 326.7L665.7 324.5Z" fill="#8c96c6" stroke-width="0.5"/>
<path d="M687.1 325.9L691.8 328.2L696.5 330.6L700.7 333.6L702.4 336.9L704.7 340L707.1 343.5L708.7 347.1L704.7 345.9L700.7 343.5L696.5 341.6L692.9 343.1L689.4 343.5L687.1 343.5Z" fill="#bfd3e6" stroke-width="0.5"/>
<path d="M704.3 334.5L707.6 335.2L710.8 334.2L713.4 331.9L714.1 329.3L711.5 326.7L712.8 327.4L715.4 330L715.4 332.6L712.8 335.2L709.5 336.5L706.3 336.5Z" fill="#bfd3e6" stroke-width="0.5"/>
<path d="M636.6 272.1L639.4 271.4L641.6 272.8L640.9 276.4L641.6 279.9L643.7 282.7L646.5 284.2L648.7 287L650.8 289.1L650.1 291.2L647.2 289.8L645.1 287.7L643 286.3L640.9 284.9L638.7 282L637.3 278.5L636.3 275Z" fill="#8c96c6" stroke-width="0.5"/>
<path d="M643 289.8L645.8 289.1L648.7 291.2L650.8 293.4L649.8 296.2L647.9 294.8L645.8 295.5L644.4 293.4Z" fill="#8c96c6" stroke-width="0.5"/>
<path d="M643.7 300.5L646.5 299L649.4 297.6L652.2 295.5L653.6 298.3L654 301.9L652.6 305.1L650.8 304L648.9 301.9L646.5 301.4L644.4 301.9Z" fill="#8c96c6" stroke-width="0.5"/>
<path d="M632.4 297.6L634.5 294.8L636.6 291.2L637.6 291L636.2 294.4L633.8 298Z" fill="#8c96c6" stroke-width="0.5"/>
<path d="M690.1 348.5L690.8 351.3L691.9 354.8L692.2 357.3L694 357.6L694.7 360.5L695.4 365.4L696.5 369.4L700 372.9L703.5 378.8L705.9 384.7L705.4 390.6L703.5 396.5L700 402.4L695.3 408.2L690.6 412.9L685.9 416.5L681.2 418.8L676.5 421.9L672.9 420L669.4 421.2L665.9 418.8L664.7 414.1L665.4 409.4L663.1 410.6L661.6 408.2L658.8 410.1L657.6 405.9L654.1 403.5L648.2 402.4L642.4 403.1L636.5 405.4L630.6 408.2L625.9 409.4L621.2 410.6L616.5 411.1L614.1 409.4L615.3 405.9L617.6 401.2L616.9 395.3L616.5 389.4L618.4 383.5L620 377.6L625.9 374.1L632.9 370.6L638.8 367.1L642.4 363.5L646.4 361.2L649.2 358.4L652.7 356.2L655.2 357.6L657.3 359.1L658.7 358L660.5 354.5L662.6 352.4L665.4 351.6L665.8 349.5L667.5 349.9L669.6 350.9L673.2 351.3L676.4 351.6L676.7 353.1L674.9 355.2L672.8 358.7L676 361.5L679.5 364.4L682 366.5L684.1 364.4L685.9 359.8L686.9 354.8L688.7 349.2Z" fill="#bfd3e6" stroke-width="0.5"/>
<path d="M667.8 427.5L670.6 425.9L674.8 426.6L676.5 428.2L674.1 431.8L670.6 433.6L667.8 432.9Z" fill="#bfd3e6" stroke-width="0.5"/>
<path d="M766.1 366.4L767.8 365.1L769.3 365.7L768.7 367.7L766.7 368.1Z" fill="#9ebcda" stroke-width="0.5"/>
<path d="M769.6 363.8L773.2 362.1L773.5 362.9L770.4 364.7Z" fill="#9ebcda" stroke-width="0.5"/>
<path d="M743.1 358.6L744.4 358.3L745.1 361.2L745.7 363.4L744.4 363.1L743.6 361.2Z" fill="#9ebcda" stroke-width="0.5"/>
<path d="M718.9 333.2L720.2 334.5L721.2 337.8L719.9 337.1Z" fill="#9ebcda" stroke-width="0.5"/>
<path d="M722.5 337.9L725.1 338.8L724.9 339.4L722.5 338.7Z" fill="#9ebcda" stroke-width="0.5"/>
<path d="M727.1 339.1L729.7 340.4L731 341.7L729 341Z" fill="#9ebcda" stroke-width="0.5"/>
<path d="M731.6 341.7L733.6 343L734.2 345.6L732.3 346.2L730.1 345.2Z" fill="#9ebcda" stroke-width="0.5"/>
<path d="M733.6 346.9L735.5 348.2L734.9 348.8L733.3 347.5Z" fill="#9ebcda" stroke-width="0.5"/>
<path d="M734.2 372.9L735.8 372L740.1 377.2L739.2 378.5Z" fill="url(#hatch)" stroke-width="0.5"/>
<path d="M417.9 237L420 237.5L424.2 237.5L428.5 238.9L434.2 238.2L439.1 237.9L439 240.6L439.8 244.4L440.2 246.8L440.5 248.6L439.9 250.3L440.4 252L440.5 253.2L443.5 259.1L446.6 265L448.9 269.7L451.3 274.4L454.6 277.9L457.6 281.5L460.7 285L463.1 287.4L464.7 289.7L463.1 292.1L467.1 292.1L472.9 290.4L478.8 288.5L480.7 289.7L479.5 294.4L477.2 300.3L472.9 307.4L468.2 313.2L463.5 319.1L459.3 325L456 330.9L454.1 336.8L453.6 342.6L455.3 347.4L456 352.1L456 357.4L454.6 362.1L450.6 366.8L444.7 370.3L441.2 373.8L443.5 377.4L442.4 382.1L437.6 384.4L435.8 385.6L435.3 382.1L434.1 378.5L430.6 377.4L427.1 375L423.5 371.5L421.6 366.8L416.5 366.1L410.6 366.8L407.1 365.6L397.6 365.1L389.4 365.1L390.6 356.2L392.5 349.1L390.6 342.1L391.1 335L390.6 333.7L389.4 332.1L385.9 327.4L383.5 321.5L384.7 315.6L385.9 313.2L385.2 314.4L384.4 311.5L383.5 308.7L382.3 306.6L379.5 308L376.7 308.7L375.2 306.6L373.1 304.4L370.3 303.7L366.7 304.4L362.5 305.9L358.2 306.6L354.7 306.3L349.7 307.3L345.5 308.3L343.4 307.3L340.5 304.4L337 301.6L334.2 298.8L331.3 295.2L328.5 291.7L326.4 288.9L324.2 285.3L322.5 281.8L323.5 277.5L325.4 273.3L325.7 268.3L324.5 264.4L324.3 264.7L333 264.5L333.5 259.3L335.8 258.5L336 252.3L343 252L343 248.3L349.7 254.2L361.1 262.7L372.4 269.7L389.4 258.4L397.2 259.1L418.4 267.6L418.4 240Z" fill="#bfd3e6" stroke-width="0.5"/>
<path d="M334 247.7L343 248.2L343 252L336 252.3L335.8 258.5L333.5 259.3L333 264.5L324.3 264.7L326.5 260L329.5 254.5L332 250.5Z" fill="url(#hatch)" stroke-width="0.5" stroke="#c4c6c8"/>
<path d="M475.3 351.5L477.2 355L477.6 359.7L475.8 365.6L473.4 372.6L471.1 379.7L468.7 384.9L464.7 386.8L461.6 384.4L460.7 379.2L462.4 373.8L463.5 367.9L464.7 363.2L468.7 360.9L471.8 357.4L474.1 353.4Z" fill="#bfd3e6" stroke-width="0.5"/>
<path d="M372.4 284.6L376.7 284.2L380.9 285.6L386.6 285.3L391.5 285L394.4 285.3L396.2 288.2L395.1 291.7L393.7 294.5L391.5 296.7L390.1 299.5L388 301.6L385.2 302.3L383 304.4L380.9 306.6L378.8 308.3L376.7 308.7L375.2 306.6L373.1 304.4L370.3 303.7L369.9 299.5L370.7 295.2L371.3 291L371.7 287.5Z" fill="#8c96c6" stroke-width="0.5"/>
<path d="M396.2 288.2L397.2 291.7L397.9 294.5L396.5 296.7L397.9 299.5L398.6 303L397.6 306.6L398.6 310.1L399 313.7L395.1 313.7L390.8 312.9L385.9 312.9L385.2 309.4L383.5 308.7L382.3 306.6L383 304.4L385.2 302.3L388 301.6L390.1 299.5L391.5 296.7L393.7 294.5L395.1 291.7Z" fill="#9ebcda" stroke-width="0.5"/>
<path d="M351.9 286.7L354.7 284.6L358.2 282.5L361.8 281.1L363.9 283.2L366.7 285.3L368.2 288.2L365.3 289.6L362.5 290.7L359.7 291.3L356.1 291.7L354 293.1L351.9 293.5L350.5 291Z" fill="#9ebcda" stroke-width="0.5"/>
<path d="M344.1 294.5L346.2 293.1L350.5 293.1L351.9 293.8L354 293.5L355.7 295.9L355.4 299.5L356.1 303L355.4 306.3L350.5 307L345.8 308L345.2 304.4L343.4 300.9L344.4 297.4Z" fill="#9ebcda" stroke-width="0.5"/>
<path d="M356.1 292.1L359.7 291.7L362.5 291.3L363.2 294.5L363.9 298.1L364.2 302.3L364.6 305.2L362.5 305.9L358.2 306.6L356.1 306.3L356.1 303L355.4 299.5L355.7 295.9Z" fill="#9ebcda" stroke-width="0.5"/>
<path d="M405.9 308.5L414.1 307.4L423.5 307.4L430.6 308.5L434.1 310.9L432.9 315.6L431.8 321.5L432.9 326.2L431.8 330.9L430.6 332L431.6 336.2L432.3 340.5L429.5 342.6L428.4 347.6L428.8 351.1L430.9 354L425.9 351.1L421.7 349.7L417.5 349L414.6 349L413.9 345.5L413.2 341.9L411.1 338.8L407.5 339.4L404 340.2L401.9 338.4L400.5 336L391.2 335.5L391.2 333.7L393.4 332.7L396.9 331.3L395.3 332.1L398.8 328.5L401.2 323.8L403.5 319.1L404.7 313.2Z" fill="#9ebcda" stroke-width="0.5"/>
<path d="M391.2 335.5L400.5 336L401.9 338.4L404 340.2L407.5 339.4L411.1 338.8L413.2 341.9L413.9 345.5L414.6 349L417.5 349L417.5 353.2L413.2 354L412.5 357.5L413.2 361.7L415.3 365.3L410.4 366L405.4 364.6L389.5 364.3L389.8 360.3L391 355.4L392.7 350.4L393.4 344.7L392.4 340.5Z" fill="#9ebcda" stroke-width="0.5"/>
<path d="M390.7 332.3L392.7 332L392.7 334.3L391.2 334.5Z" fill="#9ebcda" stroke-width="0.5"/>
<path d="M202.7 317L206.2 315.6L209.8 317.7L213.3 316.3L215.5 313.5L214.7 310.6L218.3 309.9L221.1 309.2L223.2 307.8L224.7 310.6L225.4 314.2L227.5 316.3L231 314.9L233.9 314.2L237.4 313.5L240.9 314.2L242.4 311.3L244.5 309.2L245.9 312L247.3 315.6L246.6 318.4L249.4 320.5L253 322L257.2 323.4L260.8 325.5L265 326.2L270 326.9L274.2 329L277.8 331.9L281.3 334L282.7 337.5L282.5 341.8L280.6 346L277.8 349.6L275.7 353.1L274 356.7L274.2 360.9L273.5 365.9L272.1 370.8L270 375.1L267.9 378.6L264.3 380.7L260.1 382.2L257.2 384.3L254.6 387.9L254.1 393.8L251.8 398.5L248.9 403.2L247.1 406.8L245.2 405.1L242.4 402.1L238.8 399.7L235.8 399L237.2 397.4L240 393.8L242.4 390.3L241.2 386.8L238.1 381.4L235.3 379.3L233.2 376.5L231.7 372.2L232.5 368L231.7 364.4L228.9 363L226.1 360.2L225.4 356.7L222.5 353.8L219 351.7L215.5 350.3L213.3 348.2L211.2 346L207.7 346L204.8 348.2L202 346.7L198.5 345.6L195.6 343.2L194.2 339.7L194.6 335.4L197 332.9L200.6 331.9L203.4 330.5L202.7 326.2L202 321.2Z" fill="#810f7c" stroke-width="0.5"/>
<path d="M349.3 254.4L350 266.9L350.5 279L342.7 279.7L336.3 280.4L334.2 278L330.6 276.1L327.1 275.4L325.4 274" fill="none" stroke-width="0.5"/>
<path d="M336.3 280.4L335.6 283.9L337 288.2" fill="none" stroke-width="0.5"/>
<path d="M324.2 285.3L328.5 285.6L333.5 285.3L335.6 283.9" fill="none" stroke-width="0.5"/>
<path d="M324 282.9L327.1 282.5L330.6 282.9L327.1 283.6L324 283.6" fill="none" stroke-width="0.5"/>
<path d="M326.4 288.9L329.9 287.5L331.3 288.9L329.2 291" fill="none" stroke-width="0.5"/>
<path d="M331.3 288.9L333.5 287.5L337 288.2L340.5 288.9L342.7 291.7L344.1 294.5" fill="none" stroke-width="0.5"/>
<path d="M328.5 291.7L331.3 295.2L333.5 295.2L334.9 294.5L337 295.9L339.1 294.5L341.2 295.9L343.4 294.5" fill="none" stroke-width="0.5"/>
<path d="M337 295.9L337.7 298.1L335.3 300.2" fill="none" stroke-width="0.5"/>
<path d="M341.2 295.9L342.7 299.5L344.1 302.3L345.2 304.9" fill="none" stroke-width="0.5"/>
<path d="M346.2 293.1L350.5 293.1" fill="none" stroke-width="0.5"/>
<path d="M372.4 269.7L371.7 275.4L366.7 277.1L363.9 278.2L361.8 281.1" fill="none" stroke-width="0.5"/>
<path d="M351.9 286.7L350.5 291L351.9 293.5" fill="none" stroke-width="0.5"/>
<path d="M368.2 288.2L370.3 288.9L371.7 287.5" fill="none" stroke-width="0.5"/>
<path d="M365.3 289.6L365.6 292.1L363.2 292.1L362.5 291.3" fill="none" stroke-width="0.5"/>
<path d="M365.3 292.1L366 296.7L366.5 304.4" fill="none" stroke-width="0.5"/>
<path d="M397.2 259.1L396.5 265.5L397.6 275.4L395.1 281.1L393.7 285.3L394.4 285.3" fill="none" stroke-width="0.5"/>
<path d="M397.9 299.5L402.2 299.5L406.4 298.1L412.1 295.2L417.7 293.1" fill="none" stroke-width="0.5"/>
<path d="M399 313.7L403.6 310.8L405 308L410.7 307.7L416.3 306.6L422 308L427.6 306.6L431.9 308L433.3 310.8" fill="none" stroke-width="0.5"/>
<path d="M385.9 312.9L386.3 316.5L390.8 316.5L390.8 312.9" fill="none" stroke-width="0.5"/>
<path d="M386.3 316.5L384.4 317.9" fill="none" stroke-width="0.5"/>
<path d="M390.8 316.5L395.1 317.2L397.2 319.3L396.5 323.6L393.7 325" fill="none" stroke-width="0.5"/>
<path d="M395.1 313.7L397.2 317.2L402.2 316.5L404.3 310.8" fill="none" stroke-width="0.5"/>
<path d="M418.1 237.8L418.5 248.8L419.5 262.3L446.6 262.3" fill="none" stroke-width="0.5"/>
<path d="M419.5 262.3L419.5 267.8L418.1 268.2" fill="none" stroke-width="0.5"/>
<path d="M417.7 268.4L417.3 273.3L417 278.3L414.2 281.8L413.5 286.1L414.9 290.3L417 293.9L419.1 296" fill="none" stroke-width="0.5"/>
<path d="M419.1 296L421.2 293.2L424.8 294.6L428.3 295.3L431.9 293.2L435.4 292.5L437.1 288.2L439 288.9L439 292.5L441.1 294.6" fill="none" stroke-width="0.5"/>
<path d="M441.1 294.6L442.5 290.3L444.6 286.1L446 283.2L446.7 281.1L446 277.6L448.2 274.7L449.6 274" fill="none" stroke-width="0.5"/>
<path d="M446.7 281.1L449.6 280.4L453.1 281.8L455.9 284L458.8 287.5L459.2 291" fill="none" stroke-width="0.5"/>
<path d="M458.8 288.2L460.9 287.5L462.3 289.6L460.9 291.7L459.2 291" fill="none" stroke-width="0.5"/>
<path d="M460.9 291.7L463 293.9L467.3 296.7L472.2 298.8L469.4 301.7L465.9 305.2L462.3 307.3L458.8 308.7L458.1 309.4" fill="none" stroke-width="0.5"/>
<path d="M458.1 309.4L454.5 309.4L451 310.2L448.2 308L445.3 306.6L443.9 305.9" fill="none" stroke-width="0.5"/>
<path d="M441.1 294.6L439.7 298.1L441.8 301.7L443.9 305.9L441.8 309.4" fill="none" stroke-width="0.5"/>
<path d="M419.1 296L421.2 299.5L423.4 300.9L426.2 304.5L429.7 307.3L433.3 309.4L438.2 310.2L441.8 309.4" fill="none" stroke-width="0.5"/>
<path d="M433.3 309.4L434 314.4L433.3 318.7L431.9 322.2L430.5 325.7L430 330" fill="none" stroke-width="0.5"/>
<path d="M441.8 309.4L442.5 313L441.1 317.2L441.8 322.2L438.2 322.9L434 322.9L431.9 322.2" fill="none" stroke-width="0.5"/>
<path d="M441.8 322.2L448.2 326.4L452.4 330" fill="none" stroke-width="0.5"/>
<path d="M458.1 309.4L457.4 314.4L457.8 320.1L458.1 323.6" fill="none" stroke-width="0.5"/>
<path d="M441.5 322.1L454.3 331.3" fill="none" stroke-width="0.5"/>
<path d="M430.9 323.5L433.7 322.8L434.4 325.6L431.6 326.3L434 326.6L433.7 330.6L431.6 331.3" fill="none" stroke-width="0.5"/>
<path d="M432.3 341.2L435.9 342.6L438.7 344.7L440.8 346.2L441.5 351.1L442.2 355.4L444.4 358.9L443.7 362.5L441.5 360.3L440.5 356.1L439.4 351.8L439.1 348.3L438.7 344.7" fill="none" stroke-width="0.5"/>
<path d="M442.2 349L455.7 347.9" fill="none" stroke-width="0.5"/>
<path d="M413.2 354L417.5 353.2L417.5 349L421.7 349.7L425.9 351.1L430.2 353L430.9 354L428.8 351.1L428.4 347.6L429.5 342.6L432.3 341.2" fill="none" stroke-width="0.5"/>
<path d="M439.4 349L438 354.7L435.9 357.5L432.3 358.9L430.9 361L426.7 363.9L424.5 366" fill="none" stroke-width="0.5"/>
<path d="M430.9 361L433.7 361.7L436.9 363.9L437.3 369.5L435.9 373.8L433 377.3L429.5 376.6L426.7 373.8L424.5 370.9L422.4 367.4L419.6 365.7" fill="none" stroke-width="0.5"/>
<path d="M433 377.3L434.4 378.7L434.4 383L435.4 388.7" fill="none" stroke-width="0.5"/>
<path d="M410.4 366.3L409.9 371.7L408.2 375.9L407.5 380.2L407.1 390.1L402.6 394.3L400.5 394.3" fill="none" stroke-width="0.5"/>
<path d="M407.5 380.2L408.2 385.8L409.7 390.1L412.5 388.7L416.7 385.8L420.3 384.4L423.8 381.6L426.7 378.7L429.5 376.6" fill="none" stroke-width="0.5"/>
<path d="M423.1 398.6L425.9 395L428.1 397.2L425.2 400L423.1 398.6" fill="none" stroke-width="0.5"/>
<path d="M432 387.9L433.7 387.2L434.9 389.4L433.5 391.5L432 390.8L432 387.9" fill="none" stroke-width="0.5"/>
<path d="M383.5 315L388.4 316.4L391.2 319.2L394.8 317.8L395.5 315" fill="none" stroke-width="0.5"/>
<path d="M394.8 317.8L396.2 322.1L393.4 326.3L391.2 329.2L391 332.7" fill="none" stroke-width="0.5"/>
<path d="M383 320.7L387 321.4L391.2 319.2" fill="none" stroke-width="0.5"/>
<path d="M434.5 242.3L436.6 244.9L438.5 247.3L439.9 249" fill="none" stroke-width="0.6" stroke="#c9ced3"/>
<path d="M438.5 238.2L439 240.6" fill="none" stroke-width="0.5"/>
<path d="M360.5 227.1L359.1 231.1L360.5 233.9L356.2 236.7L350.6 240.3L344.2 244.5L343.5 246.7" fill="none" stroke-width="0.5"/>
<path d="M381 223.3L379.6 228.2L380.3 231.8L383.2 235.3L383.9 238.9L384.6 241" fill="none" stroke-width="0.5"/>
<path d="M388.1 235L386 237.5L384.6 241L383.9 246.7L384.6 252.3L388.1 256.6L391.7 258.7L396.6 260.1" fill="none" stroke-width="0.5"/>
<path d="M347.7 211.2L347 214.8L347.7 218.3L347 222.6" fill="none" stroke-width="0.5"/>
<path d="M363.3 209.1L369.7 209.8" fill="none" stroke-width="0.5"/>
<path d="M377.6 179.7L376 180.8L375.5 184L376 187.2L374.9 189.3L376 191.5L378.7 192.5L377.6 195.2L376 196.8L379.7 197.3L382.4 197.9L385.6 197.3L389.3 196.3L389.9 194.1L388.3 192L387.2 189.9L388.8 188.3L390.9 187.2L391.5 184.5L390.4 181.3L390.9 179.7" fill="none" stroke-width="0.5"/>
<path d="M379.7 178.7L381.9 178.1" fill="none" stroke-width="0.5"/>
<path d="M376 180.8L373.9 181.3L371.2 185.1" fill="none" stroke-width="0.5"/>
<path d="M375.5 184L373.3 186.1L370.1 186.1" fill="none" stroke-width="0.5"/>
<path d="M368.5 187.5L370.7 188.8L372.8 190.4L374.9 189.3L373.3 186.1" fill="none" stroke-width="0.5"/>
<path d="M376 196.8L374.9 198.9L376 200.5L377.1 202.7L376.5 204.8L378.7 206.4" fill="none" stroke-width="0.5"/>
<path d="M376 200.5L378.1 201.1L380.8 200.5L382.9 199.5L382.4 197.9" fill="none" stroke-width="0.5"/>
<path d="M382.9 199.5L385.6 198.9L388.3 200L390.9 199.7L394.1 199.5L396.8 197.9L397.3 195.2L395.2 194.1L390.9 194.7L389.9 194.1" fill="none" stroke-width="0.5"/>
<path d="M390.9 187.2L394.1 187.7L397.3 188.8L400 190.4L398.4 192L396.3 193.1L395.2 194.1" fill="none" stroke-width="0.5"/>
<path d="M390.9 179.7L395.2 178.1L399.5 177.6L403.7 177.6L406.9 179.2L408.5 181.3L410.1 185.6L410.7 188.3L409.1 190.9L408.5 192L404.8 191.5L400 190.4" fill="none" stroke-width="0.5"/>
<path d="M396.3 193.1L397.3 195.2L400 194.7L403.7 194.1L407.5 193.6L408.5 192" fill="none" stroke-width="0.5"/>
<path d="M407.5 193.6L409.1 194.7L407.5 196.8L405.9 198.9L402.7 200L399.5 200.3L396.8 198.9" fill="none" stroke-width="0.5"/>
<path d="M409.1 194.7L412.2 194.1L415.4 194.7L418.1 193.6L420.2 195.7L421.8 197.9L422.9 200L424 200.5" fill="none" stroke-width="0.5"/>
<path d="M418.1 193.6L420.2 194.1L422.4 196.8L422.9 199.5" fill="none" stroke-width="0.5"/>
<path d="M405.9 198.9L407.5 200.5L409.6 202.1L411.2 203.7L413.8 204.8L417.6 204.3L421.3 204.3L422.4 202.7" fill="none" stroke-width="0.5"/>
<path d="M411.2 203.7L410.1 205.9L411 207.5L411.2 210.1L413.3 211.2L416 211.7L418.6 210.7L421.3 210.1L422.9 211.7" fill="none" stroke-width="0.5"/>
<path d="M420.8 208.5L421.3 210.1" fill="none" stroke-width="0.5"/>
<path d="M410.1 185.6L413.3 185.1L418.1 185.6L422.9 186.1L425 184.5L428.2 184L430.4 185.1L433.6 187.2L436.8 188.8L441 190.4L443.7 191.5L443.2 195.2L441.6 197.3L439.4 198.4" fill="none" stroke-width="0.5"/>
<path d="M408.5 181.3L410.1 179.7L412.2 177.1L415.4 174.9L419.2 175.5L421.8 176.5L424 179.2L426.1 181.9L425 184.5" fill="none" stroke-width="0.5"/>
<path d="M403.7 177.6L402.7 174.9L404.8 173.9L409.1 173.9L412.2 174.9L413.3 176.5L412.2 177.1" fill="none" stroke-width="0.5"/>
<path d="M402.7 174.9L403.2 172.3L405.9 170.7L408 171.7L411.2 170.7L415.4 171.2L416.5 173.9L415.4 174.9L412.2 174.9" fill="none" stroke-width="0.5"/>
<path d="M405.9 170.7L406.9 167.5" fill="none" stroke-width="0.5"/>
<path d="M416 166.9L414.9 169.1L415.4 171.2" fill="none" stroke-width="0.5"/>
<path d="M383.4 169.6L384.1 165.3L384.8 161.1L386.2 157.5L388.4 154L391.2 150.5L394 146.9L396.9 144.8L399 144.1" fill="none" stroke-width="0.5"/>
<path d="M403.2 152.3L402.1 149L400.4 146.2L399 144.1L402.5 142.7L406.1 142L408.9 143.4L411.7 141.2" fill="none" stroke-width="0.5"/>
<path d="M411.7 141.2L412.5 144.8L413.9 148.3L413.2 151.2L415.3 154.7L418.1 158.2L419.5 160.4L416.7 163.2L415.3 165" fill="none" stroke-width="0.5"/>
<path d="M390.9 199.7L392 201.6L394.7 202.7L396.8 202.1L399.5 202.7L402.1 202.1L402.7 200" fill="none" stroke-width="0.5"/>
<path d="M396.8 203.2L399.5 205.3L402.7 207.5L404.6 209.6L405.6 212L406.9 212.2L410.1 211.2L411.2 210.1" fill="none" stroke-width="0.5"/>
<path d="M402.1 202.1L403.2 205.3L402.1 208.5" fill="none" stroke-width="0.5"/>
<path d="M403.2 205.3L405.9 205.9L407.5 203.7L407.5 200.5" fill="none" stroke-width="0.5"/>
<path d="M405.9 205.9L406.9 208.5L405.3 210.1L403.7 210.1" fill="none" stroke-width="0.5"/>
<path d="M406.9 208.5L410.1 208L411 207.5" fill="none" stroke-width="0.5"/>
<path d="M404.8 212.2L405.3 215.4L406.9 216.5L408 214.4L406.9 212.2" fill="none" stroke-width="0.5"/>
<path d="M462 199.7L459.8 196.9L457.7 194L457 190.5L459.1 187.7L464.1 185.5L469.7 186.2L475.4 187.7L481.1 187L484.6 187L481.8 183.4L482.5 179.9L488.2 178.5L496.7 176.3L500.9 178.5L506.6 179.9L511.5 178.5L515.1 182L519.3 184.8L525 187L530.7 188.4L537.7 191.9" fill="none" stroke-width="0.5"/>
<path d="M529.9 207.5L525 207.5L519.3 207.5L515.1 208.9L512.2 210.3L509.4 212.5L506.6 211.7L503.7 208.9L500.2 206.1L496.7 206.1L492.4 205.4L488.9 203.2L485.3 202.1L481.8 201.5L479 202.5L479 207.5L480.4 211.7" fill="none" stroke-width="0.5"/>
<path d="M474.7 211.7L478.2 210.3L480.4 211.7L483.2 210.3L486 208.2L489.6 209.6L493.1 211.7L496.7 213.9L500.9 216L503.7 218.8L506.6 220.2L509.4 219.5L508 216.7L508.7 213.9L510.8 214.6L513.7 213.9L517.2 212.5L515.1 211L512.2 210.3" fill="none" stroke-width="0.5"/>
<path d="M517.2 212.5L517.9 214.6L522.2 213.9L526.4 211.7L530.7 209.6L529.9 207.5" fill="none" stroke-width="0.5"/>
<path d="M517.9 214.6L522.2 213.9L523.6 216.7L521.4 219.5" fill="none" stroke-width="0.5"/>
<path d="M506.6 220.2L505.9 222.4" fill="none" stroke-width="0.5"/>
<path d="M478.5 220.9L480.4 219.5L483.9 219.5L488.2 221.7L493.1 224.5L496.7 227.3" fill="none" stroke-width="0.5"/>
<path d="M468.3 216L464.8 216.7L461.2 214.6L457 213.9L457.7 218.8L459.8 223.1L462.7 227.3L464.8 231.6L467.6 235.8L469 240.1L469.7 242.2" fill="none" stroke-width="0.5"/>
<path d="M448.5 206.8L452.7 206.1L457 207.5L461.2 208.9L465.5 208.9" fill="none" stroke-width="0.5"/>
<path d="M452 210.3L455.6 211.5L459.8 211.7L462.7 211" fill="none" stroke-width="0.5"/>
<path d="M455.6 211.7L457.7 214.6L457 213.9" fill="none" stroke-width="0.5"/>
<path d="M459.8 211.7L462.7 215.3L464.8 216.7" fill="none" stroke-width="0.5"/>
<path d="M457.7 218.8L457.7 220.9L453.5 223.1L451.3 227.3L448.5 231.6" fill="none" stroke-width="0.5"/>
<path d="M538.8 191.9L543.5 188.8L550.6 187.6L557.6 185.8L561.2 186.5L565.9 188.8L572.9 190L580 191.2L585.9 191.9L591.8 191.2L597.6 192.4" fill="none" stroke-width="0.5"/>
<path d="M634 220.3L636.1 218.2" fill="none" stroke-width="0.5"/>
<path d="M637.1 207.1L638 208.5" fill="none" stroke-width="0.5"/>
<path d="M560.6 251.6L562.9 251.1L563.4 253L565.8 253.5L568.6 253L570.1 254.9L571 257.3L572 261.6" fill="none" stroke-width="0.4"/>
<path d="M560.6 251.6L561.5 255.4L562.9 258.7L563.9 261.6" fill="none" stroke-width="0.4"/>
<path d="M487 260.6L488.5 262.1L488 264.9L487.3 268.2L485.6 269.5L483.2 270.6L481.8 271.4" fill="none" stroke-width="0.5"/>
<path d="M620.3 312.5L621.7 316L625.3 315.3L628.1 312.5L629.5 309L633.1 308L635.6 308.2" fill="none" stroke-width="0.5"/>
</g>
<defs>
<pattern id="hatch" patternUnits="userSpaceOnUse" width="4.4" height="4.4" patternTransform="rotate(45)">
<rect width="4.4" height="4.4" fill="#fff"/><line x1="1.2" y1="0" x2="1.2" y2="4.4" stroke="#e3e3e3" stroke-width="2"/>
</pattern>
</defs>
<g id="legend">
<rect x="136.5" y="537.5" width="48" height="11" rx="1" fill="url(#hatch)" stroke="#c4c4c4" stroke-width="0.8"/>
<line x1="160.5" y1="534" x2="160.5" y2="537" stroke="#999" stroke-width="0.7"/>
<text class="lg" x="160.5" y="530" text-anchor="middle">No data</text>
<rect x="204" y="537.5" width="84.7" height="11" fill="#e8eaea"/>
<rect x="288.7" y="537.5" width="84.7" height="11" fill="#bfd3e6"/>
<rect x="373.4" y="537.5" width="84.7" height="11" fill="#9ebcda"/>
<rect x="458.1" y="537.5" width="84.7" height="11" fill="#8c96c6"/>
<rect x="542.8" y="537.5" width="84.7" height="11" fill="#8856a7"/>
<rect x="627.5" y="537.5" width="85" height="11" fill="#810f7c"/>
<rect x="204" y="537.5" width="508.5" height="11" fill="none" stroke="#b5b5b5" stroke-width="0.7"/>
<g stroke="#8f8f8f" stroke-width="0.7">
<line x1="246.5" y1="534" x2="246.5" y2="537.5"/>
<line x1="288.7" y1="537.5" x2="288.7" y2="548.5"/>
<line x1="373.4" y1="534" x2="373.4" y2="548.5"/>
<line x1="458.1" y1="534" x2="458.1" y2="548.5"/>
<line x1="542.8" y1="534" x2="542.8" y2="548.5"/>
<line x1="627.5" y1="534" x2="627.5" y2="548.5"/>
<line x1="712.5" y1="534" x2="712.5" y2="548.5"/>
</g>
<text class="lg" x="246.5" y="530" text-anchor="middle">No infections</text>
<text class="lg" x="373.4" y="530" text-anchor="middle">10,000</text>
<text class="lg" x="458.1" y="530" text-anchor="middle">100,000</text>
<text class="lg" x="542.8" y="530" text-anchor="middle">1 million</text>
<text class="lg" x="627.5" y="530" text-anchor="middle">10 million</text>
<text class="lg" x="712.5" y="530" text-anchor="middle">100 million</text>
</g>

</svg>
<div id="foot-l"><b>Data source:</b> IHME, Global Burden of Disease (2025)</div>
<div id="foot-r">OurWorldinData.org/neglected-tropical-diseases | CC BY</div>
</body>
</html>
